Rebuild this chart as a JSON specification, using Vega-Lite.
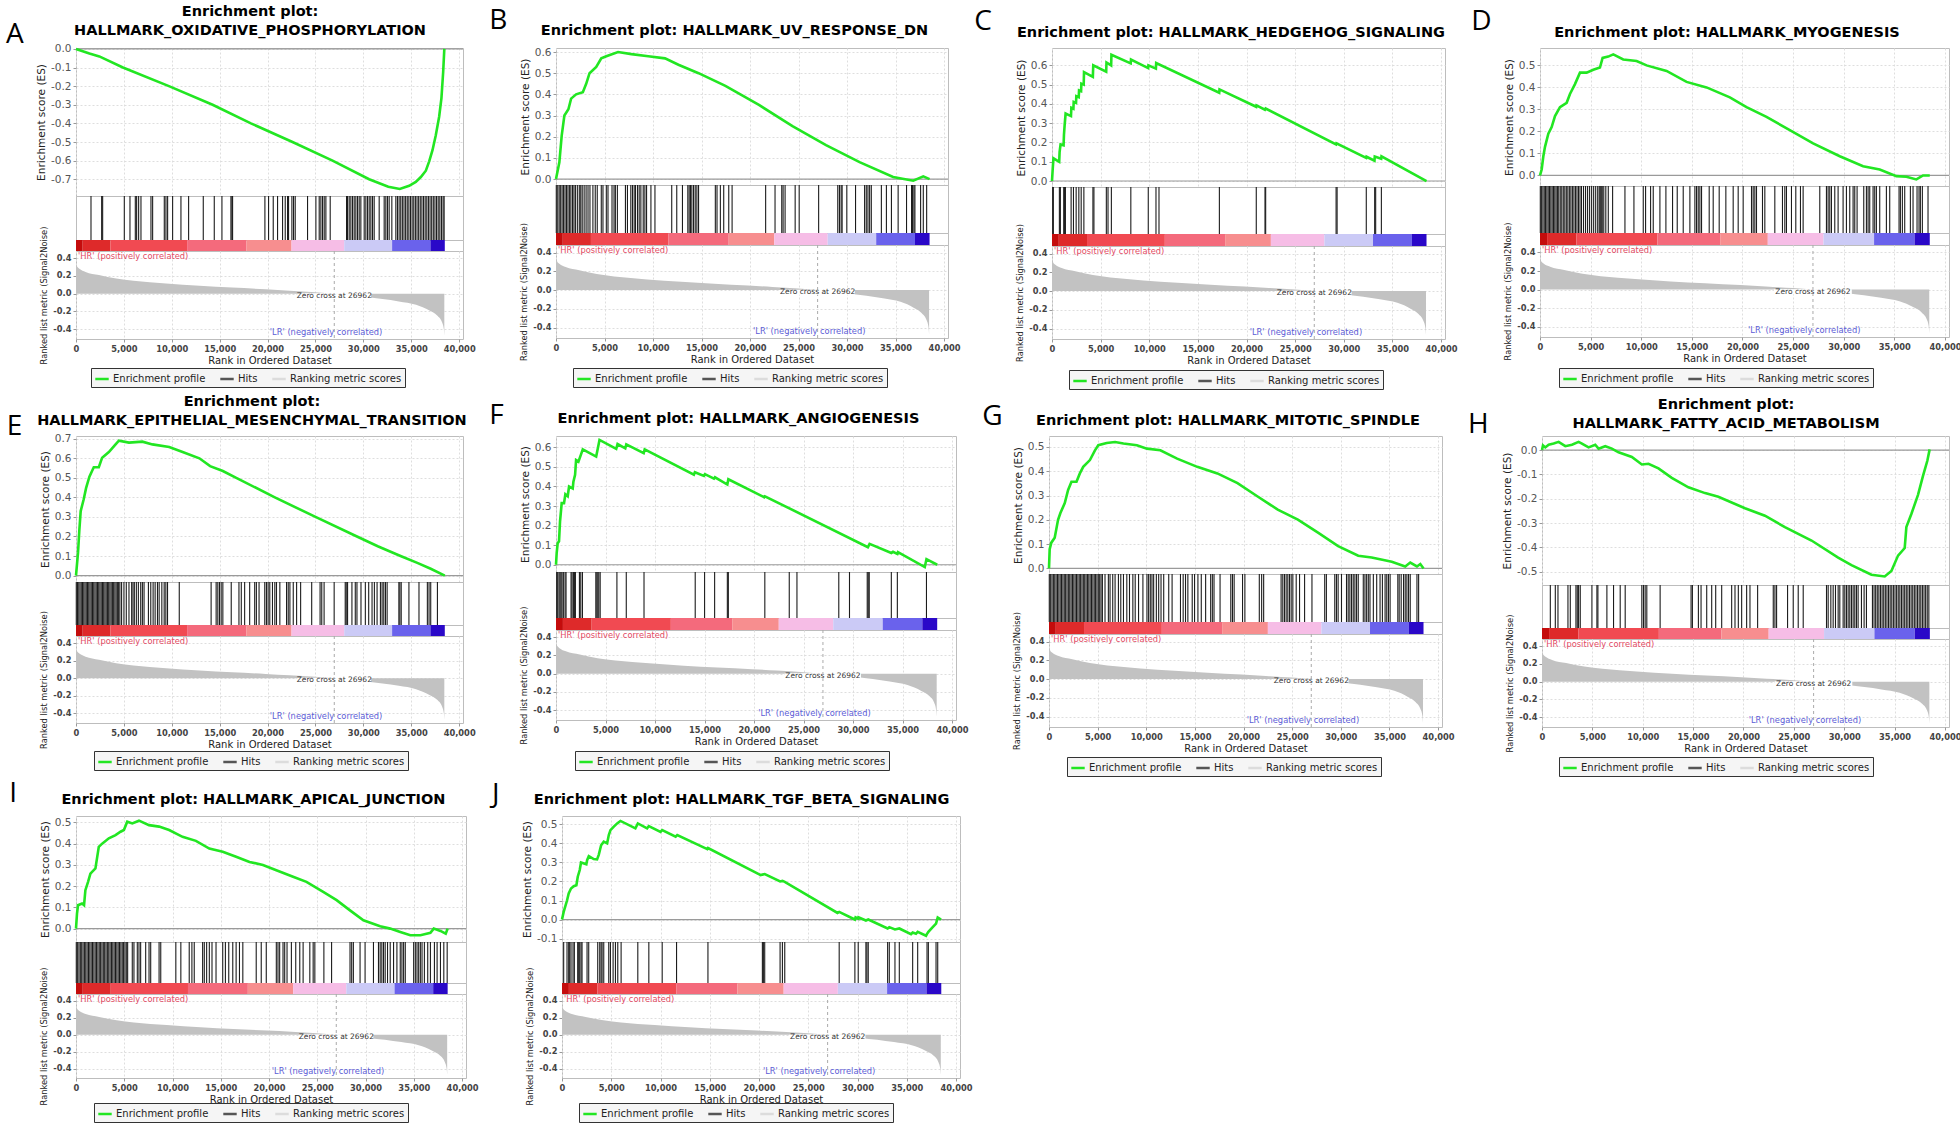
{
"$schema": "https://vega.github.io/schema/vega-lite/v6.json",
"background": "white",
"padding": {"left": 6, "top": 3, "right": 0, "bottom": 0},
"datasets": {
"es": [
{"p":"A","r":0,"v":0},{"p":"A","r":1400,"v":-0.025},{"p":"A","r":2435,"v":-0.04},{"p":"A","r":4900,"v":-0.1},{"p":"A","r":9700,"v":-0.2},{"p":"A","r":14260,"v":-0.3},{"p":"A","r":18260,"v":-0.4},{"p":"A","r":22600,"v":-0.5},{"p":"A","r":26780,"v":-0.6},{"p":"A","r":30600,"v":-0.7},{"p":"A","r":32600,"v":-0.74},{"p":"A","r":33800,"v":-0.752},{"p":"A","r":34780,"v":-0.735},{"p":"A","r":35470,"v":-0.714},{"p":"A","r":36000,"v":-0.688},{"p":"A","r":36520,"v":-0.654},{"p":"A","r":36870,"v":-0.604},{"p":"A","r":37215,"v":-0.544},{"p":"A","r":37560,"v":-0.464},{"p":"A","r":37910,"v":-0.364},{"p":"A","r":38150,"v":-0.264},{"p":"A","r":38330,"v":-0.124},{"p":"A","r":38450,"v":0},
{"p":"B","r":0,"v":0},{"p":"B","r":346,"v":0.079},{"p":"B","r":588,"v":0.205},{"p":"B","r":864,"v":0.3},{"p":"B","r":1279,"v":0.33},{"p":"B","r":1556,"v":0.38},{"p":"B","r":2074,"v":0.4},{"p":"B","r":2766,"v":0.41},{"p":"B","r":3111,"v":0.45},{"p":"B","r":3457,"v":0.5},{"p":"B","r":4148,"v":0.53},{"p":"B","r":4667,"v":0.57},{"p":"B","r":5186,"v":0.58},{"p":"B","r":6395,"v":0.6},{"p":"B","r":7778,"v":0.59},{"p":"B","r":9507,"v":0.58},{"p":"B","r":11235,"v":0.57},{"p":"B","r":12618,"v":0.54},{"p":"B","r":14692,"v":0.5},{"p":"B","r":17458,"v":0.44},{"p":"B","r":20915,"v":0.35},{"p":"B","r":24372,"v":0.25},{"p":"B","r":27829,"v":0.16},{"p":"B","r":31286,"v":0.08},{"p":"B","r":34743,"v":0.01},{"p":"B","r":36817,"v":-0.008},{"p":"B","r":37854,"v":0.013},{"p":"B","r":38500,"v":0},
{"p":"C","r":0,"v":0},{"p":"C","r":70,"v":0.06},{"p":"C","r":150,"v":0.118},{"p":"C","r":740,"v":0.1},{"p":"C","r":780,"v":0.15},{"p":"C","r":880,"v":0.19},{"p":"C","r":1190,"v":0.185},{"p":"C","r":1230,"v":0.24},{"p":"C","r":1300,"v":0.29},{"p":"C","r":1400,"v":0.35},{"p":"C","r":1950,"v":0.337},{"p":"C","r":1990,"v":0.38},{"p":"C","r":2200,"v":0.375},{"p":"C","r":2230,"v":0.41},{"p":"C","r":2470,"v":0.405},{"p":"C","r":2500,"v":0.44},{"p":"C","r":2750,"v":0.435},{"p":"C","r":2780,"v":0.47},{"p":"C","r":2990,"v":0.466},{"p":"C","r":3020,"v":0.505},{"p":"C","r":3260,"v":0.5},{"p":"C","r":3290,"v":0.565},{"p":"C","r":4200,"v":0.54},{"p":"C","r":4240,"v":0.6},{"p":"C","r":5570,"v":0.567},{"p":"C","r":5600,"v":0.615},{"p":"C","r":6080,"v":0.6},{"p":"C","r":6110,"v":0.655},{"p":"C","r":8090,"v":0.61},{"p":"C","r":8120,"v":0.63},{"p":"C","r":9880,"v":0.586},{"p":"C","r":9910,"v":0.6},{"p":"C","r":10680,"v":0.583},{"p":"C","r":10710,"v":0.612},{"p":"C","r":17190,"v":0.458},{"p":"C","r":17220,"v":0.475},{"p":"C","r":20990,"v":0.385},{"p":"C","r":21020,"v":0.392},{"p":"C","r":21890,"v":0.37},{"p":"C","r":21960,"v":0.376},{"p":"C","r":29200,"v":0.19},{"p":"C","r":29240,"v":0.196},{"p":"C","r":32300,"v":0.12},{"p":"C","r":32330,"v":0.126},{"p":"C","r":33150,"v":0.105},{"p":"C","r":33180,"v":0.127},{"p":"C","r":33840,"v":0.116},{"p":"C","r":33870,"v":0.128},{"p":"C","r":38500,"v":0},
{"p":"D","r":0,"v":0},{"p":"D","r":165,"v":0.027},{"p":"D","r":329,"v":0.087},{"p":"D","r":494,"v":0.13},{"p":"D","r":823,"v":0.19},{"p":"D","r":1152,"v":0.22},{"p":"D","r":1481,"v":0.27},{"p":"D","r":1974,"v":0.31},{"p":"D","r":2632,"v":0.33},{"p":"D","r":2961,"v":0.37},{"p":"D","r":3455,"v":0.415},{"p":"D","r":3948,"v":0.467},{"p":"D","r":4606,"v":0.467},{"p":"D","r":5264,"v":0.48},{"p":"D","r":5922,"v":0.49},{"p":"D","r":6185,"v":0.534},{"p":"D","r":6745,"v":0.54},{"p":"D","r":7238,"v":0.55},{"p":"D","r":8225,"v":0.527},{"p":"D","r":9541,"v":0.52},{"p":"D","r":10528,"v":0.5},{"p":"D","r":12502,"v":0.475},{"p":"D","r":14476,"v":0.425},{"p":"D","r":16450,"v":0.4},{"p":"D","r":18753,"v":0.355},{"p":"D","r":20398,"v":0.31},{"p":"D","r":22372,"v":0.266},{"p":"D","r":24675,"v":0.206},{"p":"D","r":26978,"v":0.146},{"p":"D","r":29610,"v":0.087},{"p":"D","r":31913,"v":0.042},{"p":"D","r":33558,"v":0.027},{"p":"D","r":35203,"v":-0.003},{"p":"D","r":36190,"v":-0.006},{"p":"D","r":37177,"v":-0.018},{"p":"D","r":37835,"v":0},{"p":"D","r":38500,"v":0},
{"p":"E","r":0,"v":0},{"p":"E","r":210,"v":0.117},{"p":"E","r":350,"v":0.233},{"p":"E","r":490,"v":0.33},{"p":"E","r":805,"v":0.39},{"p":"E","r":1050,"v":0.447},{"p":"E","r":1400,"v":0.506},{"p":"E","r":1855,"v":0.554},{"p":"E","r":2380,"v":0.554},{"p":"E","r":2730,"v":0.603},{"p":"E","r":3430,"v":0.632},{"p":"E","r":4130,"v":0.671},{"p":"E","r":4480,"v":0.69},{"p":"E","r":5530,"v":0.68},{"p":"E","r":6930,"v":0.685},{"p":"E","r":7980,"v":0.671},{"p":"E","r":9730,"v":0.658},{"p":"E","r":11130,"v":0.632},{"p":"E","r":12880,"v":0.6},{"p":"E","r":14000,"v":0.56},{"p":"E","r":15330,"v":0.535},{"p":"E","r":16730,"v":0.5},{"p":"E","r":20755,"v":0.4},{"p":"E","r":25000,"v":0.3},{"p":"E","r":29330,"v":0.2},{"p":"E","r":31500,"v":0.15},{"p":"E","r":33880,"v":0.1},{"p":"E","r":35630,"v":0.065},{"p":"E","r":37030,"v":0.035},{"p":"E","r":38500,"v":0},
{"p":"F","r":0,"v":0},{"p":"F","r":68,"v":0.06},{"p":"F","r":169,"v":0.11},{"p":"F","r":304,"v":0.12},{"p":"F","r":406,"v":0.22},{"p":"F","r":575,"v":0.315},{"p":"F","r":811,"v":0.315},{"p":"F","r":946,"v":0.36},{"p":"F","r":1183,"v":0.35},{"p":"F","r":1318,"v":0.4},{"p":"F","r":1690,"v":0.39},{"p":"F","r":1758,"v":0.425},{"p":"F","r":1927,"v":0.46},{"p":"F","r":2028,"v":0.535},{"p":"F","r":2265,"v":0.527},{"p":"F","r":2501,"v":0.56},{"p":"F","r":2704,"v":0.59},{"p":"F","r":4056,"v":0.553},{"p":"F","r":4191,"v":0.587},{"p":"F","r":4394,"v":0.638},{"p":"F","r":6084,"v":0.592},{"p":"F","r":6219,"v":0.617},{"p":"F","r":6997,"v":0.595},{"p":"F","r":7098,"v":0.615},{"p":"F","r":8856,"v":0.57},{"p":"F","r":8957,"v":0.59},{"p":"F","r":13926,"v":0.46},{"p":"F","r":14027,"v":0.473},{"p":"F","r":14940,"v":0.454},{"p":"F","r":15041,"v":0.463},{"p":"F","r":15954,"v":0.44},{"p":"F","r":16055,"v":0.447},{"p":"F","r":17306,"v":0.41},{"p":"F","r":17407,"v":0.437},{"p":"F","r":21024,"v":0.345},{"p":"F","r":21100,"v":0.35},{"p":"F","r":31502,"v":0.09},{"p":"F","r":31671,"v":0.107},{"p":"F","r":33868,"v":0.06},{"p":"F","r":34037,"v":0.066},{"p":"F","r":34476,"v":0.055},{"p":"F","r":34540,"v":0.065},{"p":"F","r":37248,"v":-0.012},{"p":"F","r":37417,"v":0.029},{"p":"F","r":38500,"v":0},
{"p":"G","r":0,"v":0},{"p":"G","r":69,"v":0.079},{"p":"G","r":241,"v":0.106},{"p":"G","r":586,"v":0.126},{"p":"G","r":931,"v":0.2},{"p":"G","r":1172,"v":0.228},{"p":"G","r":1621,"v":0.269},{"p":"G","r":1965,"v":0.323},{"p":"G","r":2310,"v":0.357},{"p":"G","r":2827,"v":0.357},{"p":"G","r":3172,"v":0.391},{"p":"G","r":3517,"v":0.418},{"p":"G","r":4207,"v":0.446},{"p":"G","r":4724,"v":0.486},{"p":"G","r":5068,"v":0.507},{"p":"G","r":5931,"v":0.516},{"p":"G","r":6793,"v":0.52},{"p":"G","r":7655,"v":0.514},{"p":"G","r":9034,"v":0.507},{"p":"G","r":10068,"v":0.493},{"p":"G","r":11448,"v":0.486},{"p":"G","r":13171,"v":0.452},{"p":"G","r":15240,"v":0.418},{"p":"G","r":17310,"v":0.391},{"p":"G","r":19379,"v":0.351},{"p":"G","r":21447,"v":0.296},{"p":"G","r":23515,"v":0.242},{"p":"G","r":25584,"v":0.201},{"p":"G","r":27653,"v":0.147},{"p":"G","r":29722,"v":0.092},{"p":"G","r":31790,"v":0.052},{"p":"G","r":33170,"v":0.045},{"p":"G","r":35239,"v":0.027},{"p":"G","r":36618,"v":0.008},{"p":"G","r":37136,"v":0.024},{"p":"G","r":37825,"v":0.008},{"p":"G","r":38170,"v":0.018},{"p":"G","r":38500,"v":0},
{"p":"H","r":0,"v":0},{"p":"H","r":100,"v":0.019},{"p":"H","r":330,"v":0.011},{"p":"H","r":661,"v":0.022},{"p":"H","r":1156,"v":0.027},{"p":"H","r":1652,"v":0.034},{"p":"H","r":2312,"v":0.016},{"p":"H","r":2973,"v":0.022},{"p":"H","r":3633,"v":0.034},{"p":"H","r":3964,"v":0.027},{"p":"H","r":4624,"v":0.011},{"p":"H","r":5285,"v":0.022},{"p":"H","r":5615,"v":0.006},{"p":"H","r":6276,"v":0.016},{"p":"H","r":6936,"v":0.006},{"p":"H","r":7597,"v":-0.009},{"p":"H","r":8918,"v":-0.028},{"p":"H","r":9909,"v":-0.059},{"p":"H","r":10570,"v":-0.056},{"p":"H","r":11561,"v":-0.075},{"p":"H","r":12882,"v":-0.114},{"p":"H","r":14533,"v":-0.153},{"p":"H","r":16185,"v":-0.177},{"p":"H","r":17506,"v":-0.192},{"p":"H","r":20148,"v":-0.239},{"p":"H","r":22130,"v":-0.27},{"p":"H","r":24112,"v":-0.317},{"p":"H","r":26754,"v":-0.372},{"p":"H","r":29397,"v":-0.442},{"p":"H","r":30718,"v":-0.473},{"p":"H","r":32700,"v":-0.513},{"p":"H","r":34021,"v":-0.52},{"p":"H","r":34681,"v":-0.497},{"p":"H","r":35342,"v":-0.434},{"p":"H","r":36003,"v":-0.403},{"p":"H","r":36168,"v":-0.317},{"p":"H","r":36663,"v":-0.263},{"p":"H","r":37324,"v":-0.184},{"p":"H","r":37819,"v":-0.106},{"p":"H","r":38249,"v":-0.044},{"p":"H","r":38480,"v":0.003},
{"p":"I","r":0,"v":0},{"p":"I","r":104,"v":0.071},{"p":"I","r":208,"v":0.11},{"p":"I","r":625,"v":0.118},{"p":"I","r":833,"v":0.11},{"p":"I","r":972,"v":0.181},{"p":"I","r":1249,"v":0.22},{"p":"I","r":1492,"v":0.259},{"p":"I","r":2013,"v":0.283},{"p":"I","r":2360,"v":0.385},{"p":"I","r":2707,"v":0.4},{"p":"I","r":3401,"v":0.425},{"p":"I","r":4095,"v":0.44},{"p":"I","r":4615,"v":0.456},{"p":"I","r":4962,"v":0.464},{"p":"I","r":5309,"v":0.503},{"p":"I","r":5830,"v":0.495},{"p":"I","r":6524,"v":0.508},{"p":"I","r":7565,"v":0.487},{"p":"I","r":8606,"v":0.48},{"p":"I","r":9647,"v":0.464},{"p":"I","r":11035,"v":0.432},{"p":"I","r":12423,"v":0.413},{"p":"I","r":13811,"v":0.377},{"p":"I","r":15199,"v":0.362},{"p":"I","r":16587,"v":0.338},{"p":"I","r":17975,"v":0.314},{"p":"I","r":19363,"v":0.299},{"p":"I","r":20751,"v":0.275},{"p":"I","r":22486,"v":0.244},{"p":"I","r":23874,"v":0.22},{"p":"I","r":25609,"v":0.173},{"p":"I","r":26997,"v":0.134},{"p":"I","r":28385,"v":0.086},{"p":"I","r":29773,"v":0.039},{"p":"I","r":31508,"v":0.011},{"p":"I","r":32549,"v":0},{"p":"I","r":33590,"v":-0.016},{"p":"I","r":34631,"v":-0.031},{"p":"I","r":35672,"v":-0.031},{"p":"I","r":36713,"v":-0.02},{"p":"I","r":37060,"v":0},{"p":"I","r":37754,"v":-0.011},{"p":"I","r":38300,"v":-0.024},{"p":"I","r":38500,"v":0},
{"p":"J","r":0,"v":0},{"p":"J","r":170,"v":0.04},{"p":"J","r":340,"v":0.07},{"p":"J","r":510,"v":0.1},{"p":"J","r":680,"v":0.137},{"p":"J","r":915,"v":0.163},{"p":"J","r":1190,"v":0.175},{"p":"J","r":1460,"v":0.18},{"p":"J","r":1600,"v":0.225},{"p":"J","r":1800,"v":0.26},{"p":"J","r":1930,"v":0.3},{"p":"J","r":2470,"v":0.29},{"p":"J","r":2550,"v":0.312},{"p":"J","r":2720,"v":0.333},{"p":"J","r":3220,"v":0.318},{"p":"J","r":3560,"v":0.316},{"p":"J","r":3730,"v":0.34},{"p":"J","r":3970,"v":0.39},{"p":"J","r":4240,"v":0.409},{"p":"J","r":4580,"v":0.4},{"p":"J","r":4750,"v":0.444},{"p":"J","r":4920,"v":0.47},{"p":"J","r":5260,"v":0.488},{"p":"J","r":5600,"v":0.505},{"p":"J","r":5935,"v":0.518},{"p":"J","r":7450,"v":0.479},{"p":"J","r":7700,"v":0.505},{"p":"J","r":8640,"v":0.479},{"p":"J","r":8815,"v":0.491},{"p":"J","r":10000,"v":0.461},{"p":"J","r":10170,"v":0.47},{"p":"J","r":11530,"v":0.435},{"p":"J","r":11700,"v":0.444},{"p":"J","r":14750,"v":0.37},{"p":"J","r":14820,"v":0.376},{"p":"J","r":20170,"v":0.233},{"p":"J","r":20340,"v":0.236},{"p":"J","r":20580,"v":0.239},{"p":"J","r":22140,"v":0.2},{"p":"J","r":22380,"v":0.203},{"p":"J","r":22610,"v":0.198},{"p":"J","r":27968,"v":0.035},{"p":"J","r":28137,"v":0.04},{"p":"J","r":29730,"v":0},{"p":"J","r":29800,"v":0.012},{"p":"J","r":30069,"v":0.005},{"p":"J","r":30100,"v":0.012},{"p":"J","r":30849,"v":-0.005},{"p":"J","r":31086,"v":0},{"p":"J","r":33053,"v":-0.047},{"p":"J","r":33222,"v":-0.04},{"p":"J","r":33798,"v":-0.052},{"p":"J","r":34239,"v":-0.047},{"p":"J","r":35426,"v":-0.077},{"p":"J","r":35595,"v":-0.068},{"p":"J","r":35934,"v":-0.075},{"p":"J","r":36104,"v":-0.065},{"p":"J","r":36951,"v":-0.085},{"p":"J","r":37053,"v":-0.075},{"p":"J","r":37188,"v":-0.065},{"p":"J","r":37629,"v":-0.04},{"p":"J","r":37968,"v":-0.021},{"p":"J","r":38138,"v":0.011},{"p":"J","r":38477,"v":0}
],
"hits": [
{"p":"A","r":1565},{"p":"A","r":2678},{"p":"A","r":2782},{"p":"A","r":5043},{"p":"A","r":5634},{"p":"A","r":6191},{"p":"A","r":6330},{"p":"A","r":6539},{"p":"A","r":6782},{"p":"A","r":7826},{"p":"A","r":8000},{"p":"A","r":9217},{"p":"A","r":9391},{"p":"A","r":9565},{"p":"A","r":10086},{"p":"A","r":10956},{"p":"A","r":11756},{"p":"A","r":13286},{"p":"A","r":14434},{"p":"A","r":15234},{"p":"A","r":16173},{"p":"A","r":16278},{"p":"A","r":16347},{"p":"A","r":19720},{"p":"A","r":20103},{"p":"A","r":20590},{"p":"A","r":21042},{"p":"A","r":21564},{"p":"A","r":21842},{"p":"A","r":22085},{"p":"A","r":22190},{"p":"A","r":22537},{"p":"A","r":22711},{"p":"A","r":22885},{"p":"A","r":24172},{"p":"A","r":25042},{"p":"A","r":25389},{"p":"A","r":25563},{"p":"A","r":25737},{"p":"A","r":25911},{"p":"A","r":26085},{"p":"A","r":26537},{"p":"A","r":28241},{"p":"A","r":28346},{"p":"A","r":28520},{"p":"A","r":28694},{"p":"A","r":28867},{"p":"A","r":29041},{"p":"A","r":29215},{"p":"A","r":29389},{"p":"A","r":29563},{"p":"A","r":29737},{"p":"A","r":30085},{"p":"A","r":30259},{"p":"A","r":30433},{"p":"A","r":30606},{"p":"A","r":30780},{"p":"A","r":30954},{"p":"A","r":31128},{"p":"A","r":31650},{"p":"A","r":32172},{"p":"A","r":32345},{"p":"A","r":32519},{"p":"A","r":32693},{"p":"A","r":32971},{"p":"A","r":33389},{"p":"A","r":33560},{"p":"A","r":33730},{"p":"A","r":33900},{"p":"A","r":34070},{"p":"A","r":34240},{"p":"A","r":34410},{"p":"A","r":34580},{"p":"A","r":34750},{"p":"A","r":34920},{"p":"A","r":35090},{"p":"A","r":35260},{"p":"A","r":35430},{"p":"A","r":35600},{"p":"A","r":35770},{"p":"A","r":35940},{"p":"A","r":36110},{"p":"A","r":36280},{"p":"A","r":36450},{"p":"A","r":36620},{"p":"A","r":36790},{"p":"A","r":36960},{"p":"A","r":37130},{"p":"A","r":37300},{"p":"A","r":37470},{"p":"A","r":37640},{"p":"A","r":37810},{"p":"A","r":37980},{"p":"A","r":38150},{"p":"A","r":38320},{"p":"A","r":38430},
{"p":"B","r":30},{"p":"B","r":180},{"p":"B","r":330},{"p":"B","r":480},{"p":"B","r":630},{"p":"B","r":780},{"p":"B","r":930},{"p":"B","r":1080},{"p":"B","r":1230},{"p":"B","r":1380},{"p":"B","r":1530},{"p":"B","r":1700},{"p":"B","r":1850},{"p":"B","r":2000},{"p":"B","r":2200},{"p":"B","r":2400},{"p":"B","r":2550},{"p":"B","r":2700},{"p":"B","r":2900},{"p":"B","r":3100},{"p":"B","r":3300},{"p":"B","r":3500},{"p":"B","r":3803},{"p":"B","r":4045},{"p":"B","r":4252},{"p":"B","r":4667},{"p":"B","r":4840},{"p":"B","r":5186},{"p":"B","r":5358},{"p":"B","r":5773},{"p":"B","r":5981},{"p":"B","r":6119},{"p":"B","r":6326},{"p":"B","r":7156},{"p":"B","r":7363},{"p":"B","r":7709},{"p":"B","r":7882},{"p":"B","r":8055},{"p":"B","r":8193},{"p":"B","r":8401},{"p":"B","r":8573},{"p":"B","r":8746},{"p":"B","r":8988},{"p":"B","r":9161},{"p":"B","r":9334},{"p":"B","r":9783},{"p":"B","r":10198},{"p":"B","r":11927},{"p":"B","r":12445},{"p":"B","r":13033},{"p":"B","r":13586},{"p":"B","r":13724},{"p":"B","r":13863},{"p":"B","r":14001},{"p":"B","r":14174},{"p":"B","r":14347},{"p":"B","r":14519},{"p":"B","r":14692},{"p":"B","r":16421},{"p":"B","r":16594},{"p":"B","r":16939},{"p":"B","r":17285},{"p":"B","r":17804},{"p":"B","r":18149},{"p":"B","r":21606},{"p":"B","r":22574},{"p":"B","r":23266},{"p":"B","r":23404},{"p":"B","r":23611},{"p":"B","r":24648},{"p":"B","r":25063},{"p":"B","r":27068},{"p":"B","r":29039},{"p":"B","r":29212},{"p":"B","r":29385},{"p":"B","r":29488},{"p":"B","r":29972},{"p":"B","r":30871},{"p":"B","r":31804},{"p":"B","r":31977},{"p":"B","r":32150},{"p":"B","r":32323},{"p":"B","r":32496},{"p":"B","r":33533},{"p":"B","r":34052},{"p":"B","r":34570},{"p":"B","r":35261},{"p":"B","r":36126},{"p":"B","r":36644},{"p":"B","r":36748},{"p":"B","r":36886},{"p":"B","r":36990},{"p":"B","r":37577},{"p":"B","r":37854},{"p":"B","r":38200},
{"p":"C","r":69},{"p":"C","r":138},{"p":"C","r":759},{"p":"C","r":862},{"p":"C","r":1207},{"p":"C","r":1276},{"p":"C","r":1379},{"p":"C","r":1965},{"p":"C","r":2207},{"p":"C","r":2483},{"p":"C","r":2758},{"p":"C","r":3000},{"p":"C","r":3276},{"p":"C","r":4207},{"p":"C","r":4310},{"p":"C","r":5586},{"p":"C","r":5758},{"p":"C","r":6103},{"p":"C","r":8103},{"p":"C","r":9896},{"p":"C","r":10689},{"p":"C","r":10999},{"p":"C","r":17206},{"p":"C","r":20999},{"p":"C","r":21896},{"p":"C","r":21965},{"p":"C","r":29205},{"p":"C","r":29308},{"p":"C","r":32308},{"p":"C","r":33170},{"p":"C","r":33273},{"p":"C","r":33859},
{"p":"D","r":30},{"p":"D","r":160},{"p":"D","r":290},{"p":"D","r":420},{"p":"D","r":550},{"p":"D","r":680},{"p":"D","r":810},{"p":"D","r":940},{"p":"D","r":1070},{"p":"D","r":1200},{"p":"D","r":1330},{"p":"D","r":1460},{"p":"D","r":1590},{"p":"D","r":1720},{"p":"D","r":1850},{"p":"D","r":2000},{"p":"D","r":2150},{"p":"D","r":2300},{"p":"D","r":2450},{"p":"D","r":2600},{"p":"D","r":2750},{"p":"D","r":2900},{"p":"D","r":3050},{"p":"D","r":3200},{"p":"D","r":3350},{"p":"D","r":3500},{"p":"D","r":3650},{"p":"D","r":3800},{"p":"D","r":3950},{"p":"D","r":4100},{"p":"D","r":4300},{"p":"D","r":4500},{"p":"D","r":4700},{"p":"D","r":4900},{"p":"D","r":5100},{"p":"D","r":5300},{"p":"D","r":5500},{"p":"D","r":5700},{"p":"D","r":5850},{"p":"D","r":5950},{"p":"D","r":6050},{"p":"D","r":6150},{"p":"D","r":6300},{"p":"D","r":6500},{"p":"D","r":6745},{"p":"D","r":7172},{"p":"D","r":8390},{"p":"D","r":9278},{"p":"D","r":10199},{"p":"D","r":10429},{"p":"D","r":10923},{"p":"D","r":11186},{"p":"D","r":11844},{"p":"D","r":12436},{"p":"D","r":13094},{"p":"D","r":13555},{"p":"D","r":14147},{"p":"D","r":14805},{"p":"D","r":15299},{"p":"D","r":15463},{"p":"D","r":15628},{"p":"D","r":15792},{"p":"D","r":15957},{"p":"D","r":16713},{"p":"D","r":17108},{"p":"D","r":17700},{"p":"D","r":18358},{"p":"D","r":19082},{"p":"D","r":19576},{"p":"D","r":20069},{"p":"D","r":20892},{"p":"D","r":21056},{"p":"D","r":21221},{"p":"D","r":21385},{"p":"D","r":21977},{"p":"D","r":22208},{"p":"D","r":23195},{"p":"D","r":23951},{"p":"D","r":24182},{"p":"D","r":24346},{"p":"D","r":24840},{"p":"D","r":25267},{"p":"D","r":25728},{"p":"D","r":25991},{"p":"D","r":27636},{"p":"D","r":28294},{"p":"D","r":28459},{"p":"D","r":28623},{"p":"D","r":28788},{"p":"D","r":29117},{"p":"D","r":29446},{"p":"D","r":29939},{"p":"D","r":30268},{"p":"D","r":30597},{"p":"D","r":30926},{"p":"D","r":31091},{"p":"D","r":31321},{"p":"D","r":31979},{"p":"D","r":32242},{"p":"D","r":32407},{"p":"D","r":32571},{"p":"D","r":32900},{"p":"D","r":33065},{"p":"D","r":33229},{"p":"D","r":33558},{"p":"D","r":34216},{"p":"D","r":34545},{"p":"D","r":35466},{"p":"D","r":35598},{"p":"D","r":35795},{"p":"D","r":36026},{"p":"D","r":36585},{"p":"D","r":36848},{"p":"D","r":37243},{"p":"D","r":37440},{"p":"D","r":37572},{"p":"D","r":37769},{"p":"D","r":38328},
{"p":"E","r":30},{"p":"E","r":160},{"p":"E","r":290},{"p":"E","r":420},{"p":"E","r":550},{"p":"E","r":680},{"p":"E","r":810},{"p":"E","r":940},{"p":"E","r":1070},{"p":"E","r":1200},{"p":"E","r":1330},{"p":"E","r":1460},{"p":"E","r":1590},{"p":"E","r":1720},{"p":"E","r":1850},{"p":"E","r":1980},{"p":"E","r":2110},{"p":"E","r":2240},{"p":"E","r":2370},{"p":"E","r":2500},{"p":"E","r":2630},{"p":"E","r":2760},{"p":"E","r":2890},{"p":"E","r":3020},{"p":"E","r":3150},{"p":"E","r":3280},{"p":"E","r":3410},{"p":"E","r":3540},{"p":"E","r":3670},{"p":"E","r":3800},{"p":"E","r":3930},{"p":"E","r":4060},{"p":"E","r":4190},{"p":"E","r":4320},{"p":"E","r":4450},{"p":"E","r":4580},{"p":"E","r":4760},{"p":"E","r":5005},{"p":"E","r":5250},{"p":"E","r":5530},{"p":"E","r":5810},{"p":"E","r":5950},{"p":"E","r":6090},{"p":"E","r":6300},{"p":"E","r":6510},{"p":"E","r":6755},{"p":"E","r":6930},{"p":"E","r":7105},{"p":"E","r":7560},{"p":"E","r":7805},{"p":"E","r":8050},{"p":"E","r":8260},{"p":"E","r":8505},{"p":"E","r":8680},{"p":"E","r":8960},{"p":"E","r":9205},{"p":"E","r":9380},{"p":"E","r":9555},{"p":"E","r":10780},{"p":"E","r":14105},{"p":"E","r":14630},{"p":"E","r":14805},{"p":"E","r":14980},{"p":"E","r":15155},{"p":"E","r":15330},{"p":"E","r":16205},{"p":"E","r":17010},{"p":"E","r":17255},{"p":"E","r":17605},{"p":"E","r":18130},{"p":"E","r":18655},{"p":"E","r":18830},{"p":"E","r":19110},{"p":"E","r":19705},{"p":"E","r":19880},{"p":"E","r":20055},{"p":"E","r":20230},{"p":"E","r":20510},{"p":"E","r":20755},{"p":"E","r":20930},{"p":"E","r":21280},{"p":"E","r":21980},{"p":"E","r":22155},{"p":"E","r":22330},{"p":"E","r":22680},{"p":"E","r":23030},{"p":"E","r":23450},{"p":"E","r":24605},{"p":"E","r":25480},{"p":"E","r":25655},{"p":"E","r":25900},{"p":"E","r":26950},{"p":"E","r":28105},{"p":"E","r":28210},{"p":"E","r":28350},{"p":"E","r":28805},{"p":"E","r":29155},{"p":"E","r":29330},{"p":"E","r":29750},{"p":"E","r":30205},{"p":"E","r":30555},{"p":"E","r":30905},{"p":"E","r":31150},{"p":"E","r":31430},{"p":"E","r":31780},{"p":"E","r":31955},{"p":"E","r":32130},{"p":"E","r":32305},{"p":"E","r":32480},{"p":"E","r":33705},{"p":"E","r":33810},{"p":"E","r":33950},{"p":"E","r":34755},{"p":"E","r":35805},{"p":"E","r":36680},{"p":"E","r":36855},{"p":"E","r":37030},{"p":"E","r":37730},
{"p":"F","r":68},{"p":"F","r":169},{"p":"F","r":304},{"p":"F","r":406},{"p":"F","r":507},{"p":"F","r":608},{"p":"F","r":744},{"p":"F","r":913},{"p":"F","r":1014},{"p":"F","r":1521},{"p":"F","r":1622},{"p":"F","r":1758},{"p":"F","r":1859},{"p":"F","r":1960},{"p":"F","r":2366},{"p":"F","r":2501},{"p":"F","r":2670},{"p":"F","r":4022},{"p":"F","r":4124},{"p":"F","r":4225},{"p":"F","r":4326},{"p":"F","r":4462},{"p":"F","r":6152},{"p":"F","r":7098},{"p":"F","r":8889},{"p":"F","r":14061},{"p":"F","r":15007},{"p":"F","r":16021},{"p":"F","r":17306},{"p":"F","r":17407},{"p":"F","r":21091},{"p":"F","r":23559},{"p":"F","r":24336},{"p":"F","r":28561},{"p":"F","r":29643},{"p":"F","r":31434},{"p":"F","r":31535},{"p":"F","r":31637},{"p":"F","r":33868},{"p":"F","r":34476},{"p":"F","r":37417},
{"p":"G","r":30},{"p":"G","r":170},{"p":"G","r":310},{"p":"G","r":450},{"p":"G","r":590},{"p":"G","r":730},{"p":"G","r":870},{"p":"G","r":1010},{"p":"G","r":1150},{"p":"G","r":1290},{"p":"G","r":1430},{"p":"G","r":1570},{"p":"G","r":1710},{"p":"G","r":1850},{"p":"G","r":1990},{"p":"G","r":2130},{"p":"G","r":2270},{"p":"G","r":2410},{"p":"G","r":2550},{"p":"G","r":2690},{"p":"G","r":2830},{"p":"G","r":2970},{"p":"G","r":3110},{"p":"G","r":3250},{"p":"G","r":3390},{"p":"G","r":3530},{"p":"G","r":3670},{"p":"G","r":3810},{"p":"G","r":3950},{"p":"G","r":4090},{"p":"G","r":4230},{"p":"G","r":4370},{"p":"G","r":4510},{"p":"G","r":4650},{"p":"G","r":4790},{"p":"G","r":4930},{"p":"G","r":5070},{"p":"G","r":5210},{"p":"G","r":5350},{"p":"G","r":5490},{"p":"G","r":5758},{"p":"G","r":6103},{"p":"G","r":6275},{"p":"G","r":6551},{"p":"G","r":6793},{"p":"G","r":7137},{"p":"G","r":7379},{"p":"G","r":7655},{"p":"G","r":7999},{"p":"G","r":8275},{"p":"G","r":8620},{"p":"G","r":8861},{"p":"G","r":9206},{"p":"G","r":9654},{"p":"G","r":10068},{"p":"G","r":10241},{"p":"G","r":10413},{"p":"G","r":10585},{"p":"G","r":10758},{"p":"G","r":11034},{"p":"G","r":11275},{"p":"G","r":11516},{"p":"G","r":11792},{"p":"G","r":12309},{"p":"G","r":12654},{"p":"G","r":13516},{"p":"G","r":13792},{"p":"G","r":14033},{"p":"G","r":14275},{"p":"G","r":14723},{"p":"G","r":14964},{"p":"G","r":15309},{"p":"G","r":15654},{"p":"G","r":16102},{"p":"G","r":16619},{"p":"G","r":16792},{"p":"G","r":16964},{"p":"G","r":17585},{"p":"G","r":18688},{"p":"G","r":18860},{"p":"G","r":19033},{"p":"G","r":19895},{"p":"G","r":20136},{"p":"G","r":21619},{"p":"G","r":21860},{"p":"G","r":22067},{"p":"G","r":23860},{"p":"G","r":24033},{"p":"G","r":24205},{"p":"G","r":24378},{"p":"G","r":24550},{"p":"G","r":24722},{"p":"G","r":24895},{"p":"G","r":25067},{"p":"G","r":25412},{"p":"G","r":25757},{"p":"G","r":26274},{"p":"G","r":27032},{"p":"G","r":28343},{"p":"G","r":28515},{"p":"G","r":29377},{"p":"G","r":29549},{"p":"G","r":29722},{"p":"G","r":30067},{"p":"G","r":30584},{"p":"G","r":30756},{"p":"G","r":30929},{"p":"G","r":31101},{"p":"G","r":31274},{"p":"G","r":31446},{"p":"G","r":31618},{"p":"G","r":31791},{"p":"G","r":32308},{"p":"G","r":32480},{"p":"G","r":32653},{"p":"G","r":32825},{"p":"G","r":32997},{"p":"G","r":33342},{"p":"G","r":33687},{"p":"G","r":34032},{"p":"G","r":34273},{"p":"G","r":34549},{"p":"G","r":34722},{"p":"G","r":34894},{"p":"G","r":35066},{"p":"G","r":35859},{"p":"G","r":35997},{"p":"G","r":36204},{"p":"G","r":36446},{"p":"G","r":36618},{"p":"G","r":36790},{"p":"G","r":36963},{"p":"G","r":37135},{"p":"G","r":37825},{"p":"G","r":37997},
{"p":"H","r":826},{"p":"H","r":1321},{"p":"H","r":1585},{"p":"H","r":2576},{"p":"H","r":2808},{"p":"H","r":3369},{"p":"H","r":3501},{"p":"H","r":3633},{"p":"H","r":3798},{"p":"H","r":4955},{"p":"H","r":5450},{"p":"H","r":5549},{"p":"H","r":6441},{"p":"H","r":7101},{"p":"H","r":7762},{"p":"H","r":8258},{"p":"H","r":9909},{"p":"H","r":10074},{"p":"H","r":10239},{"p":"H","r":10404},{"p":"H","r":11726},{"p":"H","r":14797},{"p":"H","r":14930},{"p":"H","r":15524},{"p":"H","r":15788},{"p":"H","r":16350},{"p":"H","r":16845},{"p":"H","r":17242},{"p":"H","r":17836},{"p":"H","r":18827},{"p":"H","r":19157},{"p":"H","r":19488},{"p":"H","r":19818},{"p":"H","r":20313},{"p":"H","r":20644},{"p":"H","r":21403},{"p":"H","r":22956},{"p":"H","r":23121},{"p":"H","r":23286},{"p":"H","r":24376},{"p":"H","r":24938},{"p":"H","r":25433},{"p":"H","r":25929},{"p":"H","r":28241},{"p":"H","r":28406},{"p":"H","r":28670},{"p":"H","r":28901},{"p":"H","r":29132},{"p":"H","r":29397},{"p":"H","r":29562},{"p":"H","r":29892},{"p":"H","r":30057},{"p":"H","r":30222},{"p":"H","r":30387},{"p":"H","r":30552},{"p":"H","r":30718},{"p":"H","r":30883},{"p":"H","r":31048},{"p":"H","r":31213},{"p":"H","r":31378},{"p":"H","r":31709},{"p":"H","r":31973},{"p":"H","r":32204},{"p":"H","r":32800},{"p":"H","r":32960},{"p":"H","r":33120},{"p":"H","r":33280},{"p":"H","r":33440},{"p":"H","r":33600},{"p":"H","r":33760},{"p":"H","r":33920},{"p":"H","r":34080},{"p":"H","r":34240},{"p":"H","r":34400},{"p":"H","r":34560},{"p":"H","r":34720},{"p":"H","r":34880},{"p":"H","r":35040},{"p":"H","r":35200},{"p":"H","r":35360},{"p":"H","r":35520},{"p":"H","r":35680},{"p":"H","r":35840},{"p":"H","r":36000},{"p":"H","r":36160},{"p":"H","r":36320},{"p":"H","r":36480},{"p":"H","r":36640},{"p":"H","r":36800},{"p":"H","r":36960},{"p":"H","r":37120},{"p":"H","r":37280},{"p":"H","r":37440},{"p":"H","r":37600},{"p":"H","r":37760},{"p":"H","r":37920},{"p":"H","r":38080},{"p":"H","r":38240},{"p":"H","r":38400},
{"p":"I","r":30},{"p":"I","r":170},{"p":"I","r":310},{"p":"I","r":450},{"p":"I","r":590},{"p":"I","r":730},{"p":"I","r":870},{"p":"I","r":1010},{"p":"I","r":1150},{"p":"I","r":1290},{"p":"I","r":1430},{"p":"I","r":1570},{"p":"I","r":1710},{"p":"I","r":1850},{"p":"I","r":1990},{"p":"I","r":2130},{"p":"I","r":2270},{"p":"I","r":2410},{"p":"I","r":2550},{"p":"I","r":2690},{"p":"I","r":2830},{"p":"I","r":2970},{"p":"I","r":3110},{"p":"I","r":3250},{"p":"I","r":3390},{"p":"I","r":3530},{"p":"I","r":3670},{"p":"I","r":3810},{"p":"I","r":3950},{"p":"I","r":4090},{"p":"I","r":4230},{"p":"I","r":4370},{"p":"I","r":4510},{"p":"I","r":4650},{"p":"I","r":4790},{"p":"I","r":4930},{"p":"I","r":5070},{"p":"I","r":5210},{"p":"I","r":5350},{"p":"I","r":5830},{"p":"I","r":6003},{"p":"I","r":6350},{"p":"I","r":6524},{"p":"I","r":6697},{"p":"I","r":7218},{"p":"I","r":7565},{"p":"I","r":7738},{"p":"I","r":8606},{"p":"I","r":8779},{"p":"I","r":10341},{"p":"I","r":10861},{"p":"I","r":11729},{"p":"I","r":12006},{"p":"I","r":12249},{"p":"I","r":13117},{"p":"I","r":13290},{"p":"I","r":13533},{"p":"I","r":13811},{"p":"I","r":14088},{"p":"I","r":14505},{"p":"I","r":15199},{"p":"I","r":15476},{"p":"I","r":15823},{"p":"I","r":16240},{"p":"I","r":16587},{"p":"I","r":16934},{"p":"I","r":17281},{"p":"I","r":18669},{"p":"I","r":19189},{"p":"I","r":19710},{"p":"I","r":20751},{"p":"I","r":20924},{"p":"I","r":21098},{"p":"I","r":21445},{"p":"I","r":21618},{"p":"I","r":21861},{"p":"I","r":22312},{"p":"I","r":22763},{"p":"I","r":23180},{"p":"I","r":23527},{"p":"I","r":24221},{"p":"I","r":24568},{"p":"I","r":24741},{"p":"I","r":25678},{"p":"I","r":26476},{"p":"I","r":28385},{"p":"I","r":28558},{"p":"I","r":28732},{"p":"I","r":29426},{"p":"I","r":29946},{"p":"I","r":30814},{"p":"I","r":31334},{"p":"I","r":31508},{"p":"I","r":31681},{"p":"I","r":31855},{"p":"I","r":32028},{"p":"I","r":32271},{"p":"I","r":32549},{"p":"I","r":32896},{"p":"I","r":33243},{"p":"I","r":33590},{"p":"I","r":33763},{"p":"I","r":33937},{"p":"I","r":34110},{"p":"I","r":34978},{"p":"I","r":35151},{"p":"I","r":35325},{"p":"I","r":35498},{"p":"I","r":35672},{"p":"I","r":35845},{"p":"I","r":36088},{"p":"I","r":36435},{"p":"I","r":36713},{"p":"I","r":37129},{"p":"I","r":37407},{"p":"I","r":37754},{"p":"I","r":38101},{"p":"I","r":38450},
{"p":"J","r":170},{"p":"J","r":509},{"p":"J","r":678},{"p":"J","r":780},{"p":"J","r":915},{"p":"J","r":1119},{"p":"J","r":1254},{"p":"J","r":1593},{"p":"J","r":1695},{"p":"J","r":1797},{"p":"J","r":1932},{"p":"J","r":2034},{"p":"J","r":2543},{"p":"J","r":2712},{"p":"J","r":3627},{"p":"J","r":3831},{"p":"J","r":3966},{"p":"J","r":4068},{"p":"J","r":4238},{"p":"J","r":4746},{"p":"J","r":4916},{"p":"J","r":5187},{"p":"J","r":5424},{"p":"J","r":5661},{"p":"J","r":6000},{"p":"J","r":7695},{"p":"J","r":8814},{"p":"J","r":10170},{"p":"J","r":11628},{"p":"J","r":14814},{"p":"J","r":20340},{"p":"J","r":20442},{"p":"J","r":20577},{"p":"J","r":22137},{"p":"J","r":22374},{"p":"J","r":22611},{"p":"J","r":28137},{"p":"J","r":29730},{"p":"J","r":30069},{"p":"J","r":30849},{"p":"J","r":30951},{"p":"J","r":31086},{"p":"J","r":33053},{"p":"J","r":33222},{"p":"J","r":33798},{"p":"J","r":34239},{"p":"J","r":35595},{"p":"J","r":36104},{"p":"J","r":37053},{"p":"J","r":37188},{"p":"J","r":37968},{"p":"J","r":38138}
],
"metric": [
{"r":0,"m":0.33},{"r":150,"m":0.3},{"r":350,"m":0.28},{"r":1000,"m":0.245},{"r":2400,"m":0.21},{"r":4200,"m":0.17},{"r":6000,"m":0.145},{"r":9400,"m":0.114},{"r":12900,"m":0.088},{"r":16300,"m":0.068},{"r":19800,"m":0.049},{"r":22300,"m":0.034},{"r":25000,"m":0.016},{"r":26962,"m":0},{"r":30300,"m":-0.038},{"r":33700,"m":-0.087},{"r":35500,"m":-0.125},{"r":36900,"m":-0.19},{"r":37700,"m":-0.246},{"r":38200,"m":-0.32},{"r":38400,"m":-0.4},{"r":38450,"m":-0.47}
],
"bands": [
{"r0":0,"r1":700,"m":0.3},{"r0":700,"r1":3600,"m":0.2},{"r0":3600,"r1":11600,"m":0.13},{"r0":11600,"r1":17800,"m":0.08},{"r0":17800,"r1":22500,"m":0.04},{"r0":22500,"r1":28000,"m":0.0},{"r0":28000,"r1":33000,"m":-0.05},{"r0":33000,"r1":37000,"m":-0.12},{"r0":37000,"r1":38500,"m":-0.3}
]
},
"spacing": 3,
"resolve": {"scale": {"color": "independent"}},
"vconcat": [
{"hconcat": [
{"title": {"text": "A", "anchor": "start", "frame": "bounds", "font": "Open Sans", "fontSize": 28, "fontWeight": "normal", "dx": -30, "dy": 45, "offset": 0},
"spacing": 0, "bounds": "flush",
"vconcat": [
{"width": 387, "height": 148, "title": {"text": ["Enrichment plot:", "HALLMARK_OXIDATIVE_PHOSPHORYLATION"], "frame": "bounds", "lineHeight": 19, "offset": 5},
"layer": [
{"data": {"values": [{}]}, "mark": {"type": "rule", "color": "#9a9a9a", "strokeWidth": 1.2}, "encoding": {"y": {"datum": 0, "type": "quantitative"}}},
{"data": {"name": "es"}, "transform": [{"filter": "datum.p === 'A'"}], "mark": {"type": "line", "strokeWidth": 2.6},
"encoding": {"x": {"field": "r", "type": "quantitative", "scale": {"domain": [0, 40400], "nice": false, "zero": false}, "axis": {"labels": false, "ticks": false, "domain": false, "title": null, "grid": true, "values": [0,5000,10000,15000,20000,25000,30000,35000,40000]}},
"y": {"field": "v", "type": "quantitative", "scale": {"domain": [-0.79, 0.005], "nice": false, "zero": false}, "axis": {"title": "Enrichment score (ES)", "values": [-0.7,-0.6,-0.5,-0.4,-0.3,-0.2,-0.1,0], "format": ".1f", "tickCount": 20, "labelFontSize": 10.5, "titleFontSize": 10.5, "grid": true, "labelOverlap": false}},
"color": {"datum": "Enrichment profile", "type": "nominal", "scale": {"domain": ["Enrichment profile", "Hits", "Ranking metric scores"], "range": ["#22e622", "#555555", "#dcdcdc"]}, "legend": {"orient": "none", "legendX": 15, "legendY": 320, "direction": "horizontal", "title": null, "symbolType": "stroke", "symbolStrokeWidth": 2.5, "symbolSize": 180, "labelFontSize": 10, "labelColor": "#222", "strokeColor": "#333", "fillColor": "#f5f5f5", "padding": 3, "columnPadding": 9, "labelOffset": 3}}}}
]},
{"width": 387, "height": 44, "data": {"name": "hits"}, "transform": [{"filter": "datum.p === 'A'"}], "mark": {"type": "rule", "color": "#1c1c1c", "strokeWidth": 1.1}, "encoding": {"x": {"field": "r", "type": "quantitative", "scale": {"domain": [0, 40400], "nice": false, "zero": false}, "axis": null}}},
{"width": 387, "height": 11, "data": {"name": "bands"}, "mark": "rect", "encoding": {"x": {"field": "r0", "type": "quantitative", "scale": {"domain": [0, 40400], "nice": false, "zero": false}, "axis": null}, "x2": {"field": "r1"}, "fill": {"field": "m", "type": "quantitative", "scale": {"type": "threshold", "domain": [-0.2,-0.08,-0.02,0.02,0.06,0.1,0.17,0.25], "range": ["#2a08c8","#6a62ec","#cbcaf6","#f6bde6","#f78e8f","#f46a7c","#f14a52","#de2a2a","#c40c0c"]}, "legend": null}}},
{"width": 387, "height": 88, "layer": [
{"data": {"name": "metric"}, "mark": {"type": "area", "color": "#c2c2c2", "interpolate": "monotone"}, "encoding": {"x": {"field": "r", "type": "quantitative", "scale": {"domain": [0, 40400], "nice": false, "zero": false}, "axis": {"title": "Rank in Ordered Dataset", "values": [0,5000,10000,15000,20000,25000,30000,35000,40000], "format": ",d", "labelFontSize": 8.3, "labelFontWeight": "bold", "labelColor": "#444", "titleFontSize": 10, "labelFlush": false, "labelOverlap": false, "grid": true, "titlePadding": 3}}, "y": {"field": "m", "type": "quantitative", "scale": {"domain": [-0.51, 0.48], "nice": false, "zero": false}, "axis": {"title": "Ranked list metric (Signal2Noise)", "values": [-0.4,-0.2,0,0.2,0.4], "format": ".1f", "tickCount": 20, "labelFontSize": 8.3, "labelFontWeight": "bold", "labelColor": "#444", "titleFontSize": 8.3, "grid": true, "labelOverlap": false}}}},
{"data": {"values": [{}]}, "mark": {"type": "rule", "color": "#aaaaaa", "strokeDash": [3, 3]}, "encoding": {"x": {"datum": 26962}}},
{"data": {"values": [{}]}, "mark": {"type": "rect", "color": "white"}, "encoding": {"x": {"datum": 23100}, "x2": {"datum": 30800}, "y": {"datum": 0.004}, "y2": {"datum": -0.05}}},
{"data": {"values": [{}]}, "mark": {"type": "text", "text": "Zero cross at 26962", "fontSize": 7.5, "color": "#333"}, "encoding": {"x": {"datum": 26962}, "y": {"datum": -0.023}}},
{"data": {"values": [{}]}, "mark": {"type": "text", "text": "'HR' (positively correlated)", "fontSize": 8.3, "color": "#e34a64", "align": "left", "baseline": "top", "dx": 2, "dy": 1}, "encoding": {"x": {"datum": 0}, "y": {"datum": 0.48}}},
{"data": {"values": [{}]}, "mark": {"type": "text", "text": "'LR' (negatively correlated)", "fontSize": 8.3, "color": "#5c5cd6", "baseline": "bottom", "dy": -2}, "encoding": {"x": {"datum": 26100}, "y": {"datum": -0.51}}}
]}
]},
{"title": {"text": "B", "anchor": "start", "frame": "bounds", "font": "Open Sans", "fontSize": 28, "fontWeight": "normal", "dx": -30, "dy": 12, "offset": 0},
"spacing": 0, "bounds": "flush",
"vconcat": [
{"width": 392, "height": 137, "title": {"text": "Enrichment plot: HALLMARK_UV_RESPONSE_DN", "frame": "bounds", "offset": 8},
"layer": [
{"data": {"values": [{}]}, "mark": {"type": "rule", "color": "#9a9a9a", "strokeWidth": 1.2}, "encoding": {"y": {"datum": 0, "type": "quantitative"}}},
{"data": {"name": "es"}, "transform": [{"filter": "datum.p === 'B'"}], "mark": {"type": "line", "strokeWidth": 2.6},
"encoding": {"x": {"field": "r", "type": "quantitative", "scale": {"domain": [0, 40400], "nice": false, "zero": false}, "axis": {"labels": false, "ticks": false, "domain": false, "title": null, "grid": true, "values": [0,5000,10000,15000,20000,25000,30000,35000,40000]}},
"y": {"field": "v", "type": "quantitative", "scale": {"domain": [-0.028, 0.619], "nice": false, "zero": false}, "axis": {"title": "Enrichment score (ES)", "values": [0,0.1,0.2,0.3,0.4,0.5,0.6], "format": ".1f", "tickCount": 20, "labelFontSize": 10.5, "titleFontSize": 10.5, "grid": true, "labelOverlap": false}},
"color": {"datum": "Enrichment profile", "type": "nominal", "scale": {"domain": ["Enrichment profile", "Hits", "Ranking metric scores"], "range": ["#22e622", "#555555", "#dcdcdc"]}, "legend": {"orient": "none", "legendX": 17, "legendY": 320, "direction": "horizontal", "title": null, "symbolType": "stroke", "symbolStrokeWidth": 2.5, "symbolSize": 180, "labelFontSize": 10, "labelColor": "#222", "strokeColor": "#333", "fillColor": "#f5f5f5", "padding": 3, "columnPadding": 9, "labelOffset": 3}}}}
]},
{"width": 392, "height": 48, "data": {"name": "hits"}, "transform": [{"filter": "datum.p === 'B'"}], "mark": {"type": "rule", "color": "#1c1c1c", "strokeWidth": 1.1}, "encoding": {"x": {"field": "r", "type": "quantitative", "scale": {"domain": [0, 40400], "nice": false, "zero": false}, "axis": null}}},
{"width": 392, "height": 12, "data": {"name": "bands"}, "mark": "rect", "encoding": {"x": {"field": "r0", "type": "quantitative", "scale": {"domain": [0, 40400], "nice": false, "zero": false}, "axis": null}, "x2": {"field": "r1"}, "fill": {"field": "m", "type": "quantitative", "scale": {"type": "threshold", "domain": [-0.2,-0.08,-0.02,0.02,0.06,0.1,0.17,0.25], "range": ["#2a08c8","#6a62ec","#cbcaf6","#f6bde6","#f78e8f","#f46a7c","#f14a52","#de2a2a","#c40c0c"]}, "legend": null}}},
{"width": 392, "height": 93, "layer": [
{"data": {"name": "metric"}, "mark": {"type": "area", "color": "#c2c2c2", "interpolate": "monotone"}, "encoding": {"x": {"field": "r", "type": "quantitative", "scale": {"domain": [0, 40400], "nice": false, "zero": false}, "axis": {"title": "Rank in Ordered Dataset", "values": [0,5000,10000,15000,20000,25000,30000,35000,40000], "format": ",d", "labelFontSize": 8.3, "labelFontWeight": "bold", "labelColor": "#444", "titleFontSize": 10, "labelFlush": false, "labelOverlap": false, "grid": true, "titlePadding": 3}}, "y": {"field": "m", "type": "quantitative", "scale": {"domain": [-0.51, 0.48], "nice": false, "zero": false}, "axis": {"title": "Ranked list metric (Signal2Noise)", "values": [-0.4,-0.2,0,0.2,0.4], "format": ".1f", "tickCount": 20, "labelFontSize": 8.3, "labelFontWeight": "bold", "labelColor": "#444", "titleFontSize": 8.3, "grid": true, "labelOverlap": false}}}},
{"data": {"values": [{}]}, "mark": {"type": "rule", "color": "#aaaaaa", "strokeDash": [3, 3]}, "encoding": {"x": {"datum": 26962}}},
{"data": {"values": [{}]}, "mark": {"type": "rect", "color": "white"}, "encoding": {"x": {"datum": 23100}, "x2": {"datum": 30800}, "y": {"datum": 0.004}, "y2": {"datum": -0.05}}},
{"data": {"values": [{}]}, "mark": {"type": "text", "text": "Zero cross at 26962", "fontSize": 7.5, "color": "#333"}, "encoding": {"x": {"datum": 26962}, "y": {"datum": -0.023}}},
{"data": {"values": [{}]}, "mark": {"type": "text", "text": "'HR' (positively correlated)", "fontSize": 8.3, "color": "#e34a64", "align": "left", "baseline": "top", "dx": 2, "dy": 1}, "encoding": {"x": {"datum": 0}, "y": {"datum": 0.48}}},
{"data": {"values": [{}]}, "mark": {"type": "text", "text": "'LR' (negatively correlated)", "fontSize": 8.3, "color": "#5c5cd6", "baseline": "bottom", "dy": -2}, "encoding": {"x": {"datum": 26100}, "y": {"datum": -0.51}}}
]}
]},
{"title": {"text": "C", "anchor": "start", "frame": "bounds", "font": "Open Sans", "fontSize": 28, "fontWeight": "normal", "dx": -41, "dy": 12, "offset": 0},
"spacing": 0, "bounds": "flush",
"vconcat": [
{"width": 393, "height": 139, "title": {"text": "Enrichment plot: HALLMARK_HEDGEHOG_SIGNALING", "frame": "bounds", "offset": 8},
"layer": [
{"data": {"values": [{}]}, "mark": {"type": "rule", "color": "#9a9a9a", "strokeWidth": 1.2}, "encoding": {"y": {"datum": 0, "type": "quantitative"}}},
{"data": {"name": "es"}, "transform": [{"filter": "datum.p === 'C'"}], "mark": {"type": "line", "strokeWidth": 2.6},
"encoding": {"x": {"field": "r", "type": "quantitative", "scale": {"domain": [0, 40400], "nice": false, "zero": false}, "axis": {"labels": false, "ticks": false, "domain": false, "title": null, "grid": true, "values": [0,5000,10000,15000,20000,25000,30000,35000,40000]}},
"y": {"field": "v", "type": "quantitative", "scale": {"domain": [-0.031, 0.69], "nice": false, "zero": false}, "axis": {"title": "Enrichment score (ES)", "values": [0,0.1,0.2,0.3,0.4,0.5,0.6], "format": ".1f", "tickCount": 20, "labelFontSize": 10.5, "titleFontSize": 10.5, "grid": true, "labelOverlap": false}},
"color": {"datum": "Enrichment profile", "type": "nominal", "scale": {"domain": ["Enrichment profile", "Hits", "Ranking metric scores"], "range": ["#22e622", "#555555", "#dcdcdc"]}, "legend": {"orient": "none", "legendX": 17, "legendY": 322, "direction": "horizontal", "title": null, "symbolType": "stroke", "symbolStrokeWidth": 2.5, "symbolSize": 180, "labelFontSize": 10, "labelColor": "#222", "strokeColor": "#333", "fillColor": "#f5f5f5", "padding": 3, "columnPadding": 9, "labelOffset": 3}}}}
]},
{"width": 393, "height": 47, "data": {"name": "hits"}, "transform": [{"filter": "datum.p === 'C'"}], "mark": {"type": "rule", "color": "#1c1c1c", "strokeWidth": 1.1}, "encoding": {"x": {"field": "r", "type": "quantitative", "scale": {"domain": [0, 40400], "nice": false, "zero": false}, "axis": null}}},
{"width": 393, "height": 12, "data": {"name": "bands"}, "mark": "rect", "encoding": {"x": {"field": "r0", "type": "quantitative", "scale": {"domain": [0, 40400], "nice": false, "zero": false}, "axis": null}, "x2": {"field": "r1"}, "fill": {"field": "m", "type": "quantitative", "scale": {"type": "threshold", "domain": [-0.2,-0.08,-0.02,0.02,0.06,0.1,0.17,0.25], "range": ["#2a08c8","#6a62ec","#cbcaf6","#f6bde6","#f78e8f","#f46a7c","#f14a52","#de2a2a","#c40c0c"]}, "legend": null}}},
{"width": 393, "height": 93, "layer": [
{"data": {"name": "metric"}, "mark": {"type": "area", "color": "#c2c2c2", "interpolate": "monotone"}, "encoding": {"x": {"field": "r", "type": "quantitative", "scale": {"domain": [0, 40400], "nice": false, "zero": false}, "axis": {"title": "Rank in Ordered Dataset", "values": [0,5000,10000,15000,20000,25000,30000,35000,40000], "format": ",d", "labelFontSize": 8.3, "labelFontWeight": "bold", "labelColor": "#444", "titleFontSize": 10, "labelFlush": false, "labelOverlap": false, "grid": true, "titlePadding": 3}}, "y": {"field": "m", "type": "quantitative", "scale": {"domain": [-0.51, 0.48], "nice": false, "zero": false}, "axis": {"title": "Ranked list metric (Signal2Noise)", "values": [-0.4,-0.2,0,0.2,0.4], "format": ".1f", "tickCount": 20, "labelFontSize": 8.3, "labelFontWeight": "bold", "labelColor": "#444", "titleFontSize": 8.3, "grid": true, "labelOverlap": false}}}},
{"data": {"values": [{}]}, "mark": {"type": "rule", "color": "#aaaaaa", "strokeDash": [3, 3]}, "encoding": {"x": {"datum": 26962}}},
{"data": {"values": [{}]}, "mark": {"type": "rect", "color": "white"}, "encoding": {"x": {"datum": 23100}, "x2": {"datum": 30800}, "y": {"datum": 0.004}, "y2": {"datum": -0.05}}},
{"data": {"values": [{}]}, "mark": {"type": "text", "text": "Zero cross at 26962", "fontSize": 7.5, "color": "#333"}, "encoding": {"x": {"datum": 26962}, "y": {"datum": -0.023}}},
{"data": {"values": [{}]}, "mark": {"type": "text", "text": "'HR' (positively correlated)", "fontSize": 8.3, "color": "#e34a64", "align": "left", "baseline": "top", "dx": 2, "dy": 1}, "encoding": {"x": {"datum": 0}, "y": {"datum": 0.48}}},
{"data": {"values": [{}]}, "mark": {"type": "text", "text": "'LR' (negatively correlated)", "fontSize": 8.3, "color": "#5c5cd6", "baseline": "bottom", "dy": -2}, "encoding": {"x": {"datum": 26100}, "y": {"datum": -0.51}}}
]}
]},
{"title": {"text": "D", "anchor": "start", "frame": "bounds", "font": "Open Sans", "fontSize": 28, "fontWeight": "normal", "dx": -32, "dy": 12, "offset": 0},
"spacing": 0, "bounds": "flush",
"vconcat": [
{"width": 409, "height": 138, "title": {"text": "Enrichment plot: HALLMARK_MYOGENESIS", "frame": "bounds", "offset": 8},
"layer": [
{"data": {"values": [{}]}, "mark": {"type": "rule", "color": "#9a9a9a", "strokeWidth": 1.2}, "encoding": {"y": {"datum": 0, "type": "quantitative"}}},
{"data": {"name": "es"}, "transform": [{"filter": "datum.p === 'D'"}], "mark": {"type": "line", "strokeWidth": 2.6},
"encoding": {"x": {"field": "r", "type": "quantitative", "scale": {"domain": [0, 40400], "nice": false, "zero": false}, "axis": {"labels": false, "ticks": false, "domain": false, "title": null, "grid": true, "values": [0,5000,10000,15000,20000,25000,30000,35000,40000]}},
"y": {"field": "v", "type": "quantitative", "scale": {"domain": [-0.048, 0.579], "nice": false, "zero": false}, "axis": {"title": "Enrichment score (ES)", "values": [0,0.1,0.2,0.3,0.4,0.5], "format": ".1f", "tickCount": 20, "labelFontSize": 10.5, "titleFontSize": 10.5, "grid": true, "labelOverlap": false}},
"color": {"datum": "Enrichment profile", "type": "nominal", "scale": {"domain": ["Enrichment profile", "Hits", "Ranking metric scores"], "range": ["#22e622", "#555555", "#dcdcdc"]}, "legend": {"orient": "none", "legendX": 19, "legendY": 320, "direction": "horizontal", "title": null, "symbolType": "stroke", "symbolStrokeWidth": 2.5, "symbolSize": 180, "labelFontSize": 10, "labelColor": "#222", "strokeColor": "#333", "fillColor": "#f5f5f5", "padding": 3, "columnPadding": 9, "labelOffset": 3}}}}
]},
{"width": 409, "height": 47, "data": {"name": "hits"}, "transform": [{"filter": "datum.p === 'D'"}], "mark": {"type": "rule", "color": "#1c1c1c", "strokeWidth": 1.1}, "encoding": {"x": {"field": "r", "type": "quantitative", "scale": {"domain": [0, 40400], "nice": false, "zero": false}, "axis": null}}},
{"width": 409, "height": 12, "data": {"name": "bands"}, "mark": "rect", "encoding": {"x": {"field": "r0", "type": "quantitative", "scale": {"domain": [0, 40400], "nice": false, "zero": false}, "axis": null}, "x2": {"field": "r1"}, "fill": {"field": "m", "type": "quantitative", "scale": {"type": "threshold", "domain": [-0.2,-0.08,-0.02,0.02,0.06,0.1,0.17,0.25], "range": ["#2a08c8","#6a62ec","#cbcaf6","#f6bde6","#f78e8f","#f46a7c","#f14a52","#de2a2a","#c40c0c"]}, "legend": null}}},
{"width": 409, "height": 92, "layer": [
{"data": {"name": "metric"}, "mark": {"type": "area", "color": "#c2c2c2", "interpolate": "monotone"}, "encoding": {"x": {"field": "r", "type": "quantitative", "scale": {"domain": [0, 40400], "nice": false, "zero": false}, "axis": {"title": "Rank in Ordered Dataset", "values": [0,5000,10000,15000,20000,25000,30000,35000,40000], "format": ",d", "labelFontSize": 8.3, "labelFontWeight": "bold", "labelColor": "#444", "titleFontSize": 10, "labelFlush": false, "labelOverlap": false, "grid": true, "titlePadding": 3}}, "y": {"field": "m", "type": "quantitative", "scale": {"domain": [-0.51, 0.48], "nice": false, "zero": false}, "axis": {"title": "Ranked list metric (Signal2Noise)", "values": [-0.4,-0.2,0,0.2,0.4], "format": ".1f", "tickCount": 20, "labelFontSize": 8.3, "labelFontWeight": "bold", "labelColor": "#444", "titleFontSize": 8.3, "grid": true, "labelOverlap": false}}}},
{"data": {"values": [{}]}, "mark": {"type": "rule", "color": "#aaaaaa", "strokeDash": [3, 3]}, "encoding": {"x": {"datum": 26962}}},
{"data": {"values": [{}]}, "mark": {"type": "rect", "color": "white"}, "encoding": {"x": {"datum": 23100}, "x2": {"datum": 30800}, "y": {"datum": 0.004}, "y2": {"datum": -0.05}}},
{"data": {"values": [{}]}, "mark": {"type": "text", "text": "Zero cross at 26962", "fontSize": 7.5, "color": "#333"}, "encoding": {"x": {"datum": 26962}, "y": {"datum": -0.023}}},
{"data": {"values": [{}]}, "mark": {"type": "text", "text": "'HR' (positively correlated)", "fontSize": 8.3, "color": "#e34a64", "align": "left", "baseline": "top", "dx": 2, "dy": 1}, "encoding": {"x": {"datum": 0}, "y": {"datum": 0.48}}},
{"data": {"values": [{}]}, "mark": {"type": "text", "text": "'LR' (negatively correlated)", "fontSize": 8.3, "color": "#5c5cd6", "baseline": "bottom", "dy": -2}, "encoding": {"x": {"datum": 26100}, "y": {"datum": -0.51}}}
]}
]}
], "spacing": 13, "resolve": {"scale": {"color": "independent"}}},
{"hconcat": [
{"title": {"text": "E", "anchor": "start", "frame": "bounds", "font": "Open Sans", "fontSize": 28, "fontWeight": "normal", "dx": -30, "dy": 47, "offset": 0},
"spacing": 0, "bounds": "flush",
"vconcat": [
{"width": 387, "height": 146, "title": {"text": ["Enrichment plot:", "HALLMARK_EPITHELIAL_MESENCHYMAL_TRANSITION"], "frame": "bounds", "lineHeight": 19, "offset": 5},
"layer": [
{"data": {"values": [{}]}, "mark": {"type": "rule", "color": "#9a9a9a", "strokeWidth": 1.2}, "encoding": {"y": {"datum": 0, "type": "quantitative"}}},
{"data": {"name": "es"}, "transform": [{"filter": "datum.p === 'E'"}], "mark": {"type": "line", "strokeWidth": 2.6},
"encoding": {"x": {"field": "r", "type": "quantitative", "scale": {"domain": [0, 40400], "nice": false, "zero": false}, "axis": {"labels": false, "ticks": false, "domain": false, "title": null, "grid": true, "values": [0,5000,10000,15000,20000,25000,30000,35000,40000]}},
"y": {"field": "v", "type": "quantitative", "scale": {"domain": [-0.033, 0.714], "nice": false, "zero": false}, "axis": {"title": "Enrichment score (ES)", "values": [0,0.1,0.2,0.3,0.4,0.5,0.6,0.7], "format": ".1f", "tickCount": 20, "labelFontSize": 10.5, "titleFontSize": 10.5, "grid": true, "labelOverlap": false}},
"color": {"datum": "Enrichment profile", "type": "nominal", "scale": {"domain": ["Enrichment profile", "Hits", "Ranking metric scores"], "range": ["#22e622", "#555555", "#dcdcdc"]}, "legend": {"orient": "none", "legendX": 18, "legendY": 315, "direction": "horizontal", "title": null, "symbolType": "stroke", "symbolStrokeWidth": 2.5, "symbolSize": 180, "labelFontSize": 10, "labelColor": "#222", "strokeColor": "#333", "fillColor": "#f5f5f5", "padding": 3, "columnPadding": 9, "labelOffset": 3}}}}
]},
{"width": 387, "height": 43, "data": {"name": "hits"}, "transform": [{"filter": "datum.p === 'E'"}], "mark": {"type": "rule", "color": "#1c1c1c", "strokeWidth": 1.1}, "encoding": {"x": {"field": "r", "type": "quantitative", "scale": {"domain": [0, 40400], "nice": false, "zero": false}, "axis": null}}},
{"width": 387, "height": 11, "data": {"name": "bands"}, "mark": "rect", "encoding": {"x": {"field": "r0", "type": "quantitative", "scale": {"domain": [0, 40400], "nice": false, "zero": false}, "axis": null}, "x2": {"field": "r1"}, "fill": {"field": "m", "type": "quantitative", "scale": {"type": "threshold", "domain": [-0.2,-0.08,-0.02,0.02,0.06,0.1,0.17,0.25], "range": ["#2a08c8","#6a62ec","#cbcaf6","#f6bde6","#f78e8f","#f46a7c","#f14a52","#de2a2a","#c40c0c"]}, "legend": null}}},
{"width": 387, "height": 87, "layer": [
{"data": {"name": "metric"}, "mark": {"type": "area", "color": "#c2c2c2", "interpolate": "monotone"}, "encoding": {"x": {"field": "r", "type": "quantitative", "scale": {"domain": [0, 40400], "nice": false, "zero": false}, "axis": {"title": "Rank in Ordered Dataset", "values": [0,5000,10000,15000,20000,25000,30000,35000,40000], "format": ",d", "labelFontSize": 8.3, "labelFontWeight": "bold", "labelColor": "#444", "titleFontSize": 10, "labelFlush": false, "labelOverlap": false, "grid": true, "titlePadding": 3}}, "y": {"field": "m", "type": "quantitative", "scale": {"domain": [-0.51, 0.48], "nice": false, "zero": false}, "axis": {"title": "Ranked list metric (Signal2Noise)", "values": [-0.4,-0.2,0,0.2,0.4], "format": ".1f", "tickCount": 20, "labelFontSize": 8.3, "labelFontWeight": "bold", "labelColor": "#444", "titleFontSize": 8.3, "grid": true, "labelOverlap": false}}}},
{"data": {"values": [{}]}, "mark": {"type": "rule", "color": "#aaaaaa", "strokeDash": [3, 3]}, "encoding": {"x": {"datum": 26962}}},
{"data": {"values": [{}]}, "mark": {"type": "rect", "color": "white"}, "encoding": {"x": {"datum": 23100}, "x2": {"datum": 30800}, "y": {"datum": 0.004}, "y2": {"datum": -0.05}}},
{"data": {"values": [{}]}, "mark": {"type": "text", "text": "Zero cross at 26962", "fontSize": 7.5, "color": "#333"}, "encoding": {"x": {"datum": 26962}, "y": {"datum": -0.023}}},
{"data": {"values": [{}]}, "mark": {"type": "text", "text": "'HR' (positively correlated)", "fontSize": 8.3, "color": "#e34a64", "align": "left", "baseline": "top", "dx": 2, "dy": 1}, "encoding": {"x": {"datum": 0}, "y": {"datum": 0.48}}},
{"data": {"values": [{}]}, "mark": {"type": "text", "text": "'LR' (negatively correlated)", "fontSize": 8.3, "color": "#5c5cd6", "baseline": "bottom", "dy": -2}, "encoding": {"x": {"datum": 26100}, "y": {"datum": -0.51}}}
]}
]},
{"title": {"text": "F", "anchor": "start", "frame": "bounds", "font": "Open Sans", "fontSize": 28, "fontWeight": "normal", "dx": -30, "dy": 19, "offset": 0},
"spacing": 0, "bounds": "flush",
"vconcat": [
{"width": 400, "height": 136, "title": {"text": "Enrichment plot: HALLMARK_ANGIOGENESIS", "frame": "bounds", "offset": 8},
"layer": [
{"data": {"values": [{}]}, "mark": {"type": "rule", "color": "#9a9a9a", "strokeWidth": 1.2}, "encoding": {"y": {"datum": 0, "type": "quantitative"}}},
{"data": {"name": "es"}, "transform": [{"filter": "datum.p === 'F'"}], "mark": {"type": "line", "strokeWidth": 2.6},
"encoding": {"x": {"field": "r", "type": "quantitative", "scale": {"domain": [0, 40400], "nice": false, "zero": false}, "axis": {"labels": false, "ticks": false, "domain": false, "title": null, "grid": true, "values": [0,5000,10000,15000,20000,25000,30000,35000,40000]}},
"y": {"field": "v", "type": "quantitative", "scale": {"domain": [-0.037, 0.658], "nice": false, "zero": false}, "axis": {"title": "Enrichment score (ES)", "values": [0,0.1,0.2,0.3,0.4,0.5,0.6], "format": ".1f", "tickCount": 20, "labelFontSize": 10.5, "titleFontSize": 10.5, "grid": true, "labelOverlap": false}},
"color": {"datum": "Enrichment profile", "type": "nominal", "scale": {"domain": ["Enrichment profile", "Hits", "Ranking metric scores"], "range": ["#22e622", "#555555", "#dcdcdc"]}, "legend": {"orient": "none", "legendX": 19, "legendY": 315, "direction": "horizontal", "title": null, "symbolType": "stroke", "symbolStrokeWidth": 2.5, "symbolSize": 180, "labelFontSize": 10, "labelColor": "#222", "strokeColor": "#333", "fillColor": "#f5f5f5", "padding": 3, "columnPadding": 9, "labelOffset": 3}}}}
]},
{"width": 400, "height": 46, "data": {"name": "hits"}, "transform": [{"filter": "datum.p === 'F'"}], "mark": {"type": "rule", "color": "#1c1c1c", "strokeWidth": 1.1}, "encoding": {"x": {"field": "r", "type": "quantitative", "scale": {"domain": [0, 40400], "nice": false, "zero": false}, "axis": null}}},
{"width": 400, "height": 12, "data": {"name": "bands"}, "mark": "rect", "encoding": {"x": {"field": "r0", "type": "quantitative", "scale": {"domain": [0, 40400], "nice": false, "zero": false}, "axis": null}, "x2": {"field": "r1"}, "fill": {"field": "m", "type": "quantitative", "scale": {"type": "threshold", "domain": [-0.2,-0.08,-0.02,0.02,0.06,0.1,0.17,0.25], "range": ["#2a08c8","#6a62ec","#cbcaf6","#f6bde6","#f78e8f","#f46a7c","#f14a52","#de2a2a","#c40c0c"]}, "legend": null}}},
{"width": 400, "height": 90, "layer": [
{"data": {"name": "metric"}, "mark": {"type": "area", "color": "#c2c2c2", "interpolate": "monotone"}, "encoding": {"x": {"field": "r", "type": "quantitative", "scale": {"domain": [0, 40400], "nice": false, "zero": false}, "axis": {"title": "Rank in Ordered Dataset", "values": [0,5000,10000,15000,20000,25000,30000,35000,40000], "format": ",d", "labelFontSize": 8.3, "labelFontWeight": "bold", "labelColor": "#444", "titleFontSize": 10, "labelFlush": false, "labelOverlap": false, "grid": true, "titlePadding": 3}}, "y": {"field": "m", "type": "quantitative", "scale": {"domain": [-0.51, 0.48], "nice": false, "zero": false}, "axis": {"title": "Ranked list metric (Signal2Noise)", "values": [-0.4,-0.2,0,0.2,0.4], "format": ".1f", "tickCount": 20, "labelFontSize": 8.3, "labelFontWeight": "bold", "labelColor": "#444", "titleFontSize": 8.3, "grid": true, "labelOverlap": false}}}},
{"data": {"values": [{}]}, "mark": {"type": "rule", "color": "#aaaaaa", "strokeDash": [3, 3]}, "encoding": {"x": {"datum": 26962}}},
{"data": {"values": [{}]}, "mark": {"type": "rect", "color": "white"}, "encoding": {"x": {"datum": 23100}, "x2": {"datum": 30800}, "y": {"datum": 0.004}, "y2": {"datum": -0.05}}},
{"data": {"values": [{}]}, "mark": {"type": "text", "text": "Zero cross at 26962", "fontSize": 7.5, "color": "#333"}, "encoding": {"x": {"datum": 26962}, "y": {"datum": -0.023}}},
{"data": {"values": [{}]}, "mark": {"type": "text", "text": "'HR' (positively correlated)", "fontSize": 8.3, "color": "#e34a64", "align": "left", "baseline": "top", "dx": 2, "dy": 1}, "encoding": {"x": {"datum": 0}, "y": {"datum": 0.48}}},
{"data": {"values": [{}]}, "mark": {"type": "text", "text": "'LR' (negatively correlated)", "fontSize": 8.3, "color": "#5c5cd6", "baseline": "bottom", "dy": -2}, "encoding": {"x": {"datum": 26100}, "y": {"datum": -0.51}}}
]}
]},
{"title": {"text": "G", "anchor": "start", "frame": "bounds", "font": "Open Sans", "fontSize": 28, "fontWeight": "normal", "dx": -30, "dy": 19, "offset": 0},
"spacing": 0, "bounds": "flush",
"vconcat": [
{"width": 393, "height": 138, "title": {"text": "Enrichment plot: HALLMARK_MITOTIC_SPINDLE", "frame": "bounds", "offset": 8},
"layer": [
{"data": {"values": [{}]}, "mark": {"type": "rule", "color": "#9a9a9a", "strokeWidth": 1.2}, "encoding": {"y": {"datum": 0, "type": "quantitative"}}},
{"data": {"name": "es"}, "transform": [{"filter": "datum.p === 'G'"}], "mark": {"type": "line", "strokeWidth": 2.6},
"encoding": {"x": {"field": "r", "type": "quantitative", "scale": {"domain": [0, 40400], "nice": false, "zero": false}, "axis": {"labels": false, "ticks": false, "domain": false, "title": null, "grid": true, "values": [0,5000,10000,15000,20000,25000,30000,35000,40000]}},
"y": {"field": "v", "type": "quantitative", "scale": {"domain": [-0.023, 0.545], "nice": false, "zero": false}, "axis": {"title": "Enrichment score (ES)", "values": [0,0.1,0.2,0.3,0.4,0.5], "format": ".1f", "tickCount": 20, "labelFontSize": 10.5, "titleFontSize": 10.5, "grid": true, "labelOverlap": false}},
"color": {"datum": "Enrichment profile", "type": "nominal", "scale": {"domain": ["Enrichment profile", "Hits", "Ranking metric scores"], "range": ["#22e622", "#555555", "#dcdcdc"]}, "legend": {"orient": "none", "legendX": 18, "legendY": 321, "direction": "horizontal", "title": null, "symbolType": "stroke", "symbolStrokeWidth": 2.5, "symbolSize": 180, "labelFontSize": 10, "labelColor": "#222", "strokeColor": "#333", "fillColor": "#f5f5f5", "padding": 3, "columnPadding": 9, "labelOffset": 3}}}}
]},
{"width": 393, "height": 48, "data": {"name": "hits"}, "transform": [{"filter": "datum.p === 'G'"}], "mark": {"type": "rule", "color": "#1c1c1c", "strokeWidth": 1.1}, "encoding": {"x": {"field": "r", "type": "quantitative", "scale": {"domain": [0, 40400], "nice": false, "zero": false}, "axis": null}}},
{"width": 393, "height": 12, "data": {"name": "bands"}, "mark": "rect", "encoding": {"x": {"field": "r0", "type": "quantitative", "scale": {"domain": [0, 40400], "nice": false, "zero": false}, "axis": null}, "x2": {"field": "r1"}, "fill": {"field": "m", "type": "quantitative", "scale": {"type": "threshold", "domain": [-0.2,-0.08,-0.02,0.02,0.06,0.1,0.17,0.25], "range": ["#2a08c8","#6a62ec","#cbcaf6","#f6bde6","#f78e8f","#f46a7c","#f14a52","#de2a2a","#c40c0c"]}, "legend": null}}},
{"width": 393, "height": 93, "layer": [
{"data": {"name": "metric"}, "mark": {"type": "area", "color": "#c2c2c2", "interpolate": "monotone"}, "encoding": {"x": {"field": "r", "type": "quantitative", "scale": {"domain": [0, 40400], "nice": false, "zero": false}, "axis": {"title": "Rank in Ordered Dataset", "values": [0,5000,10000,15000,20000,25000,30000,35000,40000], "format": ",d", "labelFontSize": 8.3, "labelFontWeight": "bold", "labelColor": "#444", "titleFontSize": 10, "labelFlush": false, "labelOverlap": false, "grid": true, "titlePadding": 3}}, "y": {"field": "m", "type": "quantitative", "scale": {"domain": [-0.51, 0.48], "nice": false, "zero": false}, "axis": {"title": "Ranked list metric (Signal2Noise)", "values": [-0.4,-0.2,0,0.2,0.4], "format": ".1f", "tickCount": 20, "labelFontSize": 8.3, "labelFontWeight": "bold", "labelColor": "#444", "titleFontSize": 8.3, "grid": true, "labelOverlap": false}}}},
{"data": {"values": [{}]}, "mark": {"type": "rule", "color": "#aaaaaa", "strokeDash": [3, 3]}, "encoding": {"x": {"datum": 26962}}},
{"data": {"values": [{}]}, "mark": {"type": "rect", "color": "white"}, "encoding": {"x": {"datum": 23100}, "x2": {"datum": 30800}, "y": {"datum": 0.004}, "y2": {"datum": -0.05}}},
{"data": {"values": [{}]}, "mark": {"type": "text", "text": "Zero cross at 26962", "fontSize": 7.5, "color": "#333"}, "encoding": {"x": {"datum": 26962}, "y": {"datum": -0.023}}},
{"data": {"values": [{}]}, "mark": {"type": "text", "text": "'HR' (positively correlated)", "fontSize": 8.3, "color": "#e34a64", "align": "left", "baseline": "top", "dx": 2, "dy": 1}, "encoding": {"x": {"datum": 0}, "y": {"datum": 0.48}}},
{"data": {"values": [{}]}, "mark": {"type": "text", "text": "'LR' (negatively correlated)", "fontSize": 8.3, "color": "#5c5cd6", "baseline": "bottom", "dy": -2}, "encoding": {"x": {"datum": 26100}, "y": {"datum": -0.51}}}
]}
]},
{"title": {"text": "H", "anchor": "start", "frame": "bounds", "font": "Open Sans", "fontSize": 28, "fontWeight": "normal", "dx": -34, "dy": 43, "offset": 0},
"spacing": 0, "bounds": "flush",
"vconcat": [
{"width": 407, "height": 149, "title": {"text": ["Enrichment plot:", "HALLMARK_FATTY_ACID_METABOLISM"], "frame": "bounds", "lineHeight": 19, "offset": 5},
"layer": [
{"data": {"values": [{}]}, "mark": {"type": "rule", "color": "#9a9a9a", "strokeWidth": 1.2}, "encoding": {"y": {"datum": 0, "type": "quantitative"}}},
{"data": {"name": "es"}, "transform": [{"filter": "datum.p === 'H'"}], "mark": {"type": "line", "strokeWidth": 2.6},
"encoding": {"x": {"field": "r", "type": "quantitative", "scale": {"domain": [0, 40400], "nice": false, "zero": false}, "axis": {"labels": false, "ticks": false, "domain": false, "title": null, "grid": true, "values": [0,5000,10000,15000,20000,25000,30000,35000,40000]}},
"y": {"field": "v", "type": "quantitative", "scale": {"domain": [-0.555, 0.058], "nice": false, "zero": false}, "axis": {"title": "Enrichment score (ES)", "values": [-0.5,-0.4,-0.3,-0.2,-0.1,0], "format": ".1f", "tickCount": 20, "labelFontSize": 10.5, "titleFontSize": 10.5, "grid": true, "labelOverlap": false}},
"color": {"datum": "Enrichment profile", "type": "nominal", "scale": {"domain": ["Enrichment profile", "Hits", "Ranking metric scores"], "range": ["#22e622", "#555555", "#dcdcdc"]}, "legend": {"orient": "none", "legendX": 17, "legendY": 321, "direction": "horizontal", "title": null, "symbolType": "stroke", "symbolStrokeWidth": 2.5, "symbolSize": 180, "labelFontSize": 10, "labelColor": "#222", "strokeColor": "#333", "fillColor": "#f5f5f5", "padding": 3, "columnPadding": 9, "labelOffset": 3}}}}
]},
{"width": 407, "height": 43, "data": {"name": "hits"}, "transform": [{"filter": "datum.p === 'H'"}], "mark": {"type": "rule", "color": "#1c1c1c", "strokeWidth": 1.1}, "encoding": {"x": {"field": "r", "type": "quantitative", "scale": {"domain": [0, 40400], "nice": false, "zero": false}, "axis": null}}},
{"width": 407, "height": 11, "data": {"name": "bands"}, "mark": "rect", "encoding": {"x": {"field": "r0", "type": "quantitative", "scale": {"domain": [0, 40400], "nice": false, "zero": false}, "axis": null}, "x2": {"field": "r1"}, "fill": {"field": "m", "type": "quantitative", "scale": {"type": "threshold", "domain": [-0.2,-0.08,-0.02,0.02,0.06,0.1,0.17,0.25], "range": ["#2a08c8","#6a62ec","#cbcaf6","#f6bde6","#f78e8f","#f46a7c","#f14a52","#de2a2a","#c40c0c"]}, "legend": null}}},
{"width": 407, "height": 88, "layer": [
{"data": {"name": "metric"}, "mark": {"type": "area", "color": "#c2c2c2", "interpolate": "monotone"}, "encoding": {"x": {"field": "r", "type": "quantitative", "scale": {"domain": [0, 40400], "nice": false, "zero": false}, "axis": {"title": "Rank in Ordered Dataset", "values": [0,5000,10000,15000,20000,25000,30000,35000,40000], "format": ",d", "labelFontSize": 8.3, "labelFontWeight": "bold", "labelColor": "#444", "titleFontSize": 10, "labelFlush": false, "labelOverlap": false, "grid": true, "titlePadding": 3}}, "y": {"field": "m", "type": "quantitative", "scale": {"domain": [-0.51, 0.48], "nice": false, "zero": false}, "axis": {"title": "Ranked list metric (Signal2Noise)", "values": [-0.4,-0.2,0,0.2,0.4], "format": ".1f", "tickCount": 20, "labelFontSize": 8.3, "labelFontWeight": "bold", "labelColor": "#444", "titleFontSize": 8.3, "grid": true, "labelOverlap": false}}}},
{"data": {"values": [{}]}, "mark": {"type": "rule", "color": "#aaaaaa", "strokeDash": [3, 3]}, "encoding": {"x": {"datum": 26962}}},
{"data": {"values": [{}]}, "mark": {"type": "rect", "color": "white"}, "encoding": {"x": {"datum": 23100}, "x2": {"datum": 30800}, "y": {"datum": 0.004}, "y2": {"datum": -0.05}}},
{"data": {"values": [{}]}, "mark": {"type": "text", "text": "Zero cross at 26962", "fontSize": 7.5, "color": "#333"}, "encoding": {"x": {"datum": 26962}, "y": {"datum": -0.023}}},
{"data": {"values": [{}]}, "mark": {"type": "text", "text": "'HR' (positively correlated)", "fontSize": 8.3, "color": "#e34a64", "align": "left", "baseline": "top", "dx": 2, "dy": 1}, "encoding": {"x": {"datum": 0}, "y": {"datum": 0.48}}},
{"data": {"values": [{}]}, "mark": {"type": "text", "text": "'LR' (negatively correlated)", "fontSize": 8.3, "color": "#5c5cd6", "baseline": "bottom", "dy": -2}, "encoding": {"x": {"datum": 26100}, "y": {"datum": -0.51}}}
]}
]}
], "spacing": 13, "resolve": {"scale": {"color": "independent"}}},
{"hconcat": [
{"title": {"text": "I", "anchor": "start", "frame": "bounds", "font": "Open Sans", "fontSize": 28, "fontWeight": "normal", "dx": -30, "dy": 17, "offset": 0},
"spacing": 0, "bounds": "flush",
"vconcat": [
{"width": 390, "height": 126, "title": {"text": "Enrichment plot: HALLMARK_APICAL_JUNCTION", "frame": "bounds", "offset": 8},
"layer": [
{"data": {"values": [{}]}, "mark": {"type": "rule", "color": "#9a9a9a", "strokeWidth": 1.2}, "encoding": {"y": {"datum": 0, "type": "quantitative"}}},
{"data": {"name": "es"}, "transform": [{"filter": "datum.p === 'I'"}], "mark": {"type": "line", "strokeWidth": 2.6},
"encoding": {"x": {"field": "r", "type": "quantitative", "scale": {"domain": [0, 40400], "nice": false, "zero": false}, "axis": {"labels": false, "ticks": false, "domain": false, "title": null, "grid": true, "values": [0,5000,10000,15000,20000,25000,30000,35000,40000]}},
"y": {"field": "v", "type": "quantitative", "scale": {"domain": [-0.063, 0.53], "nice": false, "zero": false}, "axis": {"title": "Enrichment score (ES)", "values": [0,0.1,0.2,0.3,0.4,0.5], "format": ".1f", "tickCount": 20, "labelFontSize": 10.5, "titleFontSize": 10.5, "grid": true, "labelOverlap": false}},
"color": {"datum": "Enrichment profile", "type": "nominal", "scale": {"domain": ["Enrichment profile", "Hits", "Ranking metric scores"], "range": ["#22e622", "#555555", "#dcdcdc"]}, "legend": {"orient": "none", "legendX": 18, "legendY": 287, "direction": "horizontal", "title": null, "symbolType": "stroke", "symbolStrokeWidth": 2.5, "symbolSize": 180, "labelFontSize": 10, "labelColor": "#222", "strokeColor": "#333", "fillColor": "#f5f5f5", "padding": 3, "columnPadding": 9, "labelOffset": 3}}}}
]},
{"width": 390, "height": 41, "data": {"name": "hits"}, "transform": [{"filter": "datum.p === 'I'"}], "mark": {"type": "rule", "color": "#1c1c1c", "strokeWidth": 1.1}, "encoding": {"x": {"field": "r", "type": "quantitative", "scale": {"domain": [0, 40400], "nice": false, "zero": false}, "axis": null}}},
{"width": 390, "height": 11, "data": {"name": "bands"}, "mark": "rect", "encoding": {"x": {"field": "r0", "type": "quantitative", "scale": {"domain": [0, 40400], "nice": false, "zero": false}, "axis": null}, "x2": {"field": "r1"}, "fill": {"field": "m", "type": "quantitative", "scale": {"type": "threshold", "domain": [-0.2,-0.08,-0.02,0.02,0.06,0.1,0.17,0.25], "range": ["#2a08c8","#6a62ec","#cbcaf6","#f6bde6","#f78e8f","#f46a7c","#f14a52","#de2a2a","#c40c0c"]}, "legend": null}}},
{"width": 390, "height": 84, "layer": [
{"data": {"name": "metric"}, "mark": {"type": "area", "color": "#c2c2c2", "interpolate": "monotone"}, "encoding": {"x": {"field": "r", "type": "quantitative", "scale": {"domain": [0, 40400], "nice": false, "zero": false}, "axis": {"title": "Rank in Ordered Dataset", "values": [0,5000,10000,15000,20000,25000,30000,35000,40000], "format": ",d", "labelFontSize": 8.3, "labelFontWeight": "bold", "labelColor": "#444", "titleFontSize": 10, "labelFlush": false, "labelOverlap": false, "grid": true, "titlePadding": 3}}, "y": {"field": "m", "type": "quantitative", "scale": {"domain": [-0.51, 0.48], "nice": false, "zero": false}, "axis": {"title": "Ranked list metric (Signal2Noise)", "values": [-0.4,-0.2,0,0.2,0.4], "format": ".1f", "tickCount": 20, "labelFontSize": 8.3, "labelFontWeight": "bold", "labelColor": "#444", "titleFontSize": 8.3, "grid": true, "labelOverlap": false}}}},
{"data": {"values": [{}]}, "mark": {"type": "rule", "color": "#aaaaaa", "strokeDash": [3, 3]}, "encoding": {"x": {"datum": 26962}}},
{"data": {"values": [{}]}, "mark": {"type": "rect", "color": "white"}, "encoding": {"x": {"datum": 23100}, "x2": {"datum": 30800}, "y": {"datum": 0.004}, "y2": {"datum": -0.05}}},
{"data": {"values": [{}]}, "mark": {"type": "text", "text": "Zero cross at 26962", "fontSize": 7.5, "color": "#333"}, "encoding": {"x": {"datum": 26962}, "y": {"datum": -0.023}}},
{"data": {"values": [{}]}, "mark": {"type": "text", "text": "'HR' (positively correlated)", "fontSize": 8.3, "color": "#e34a64", "align": "left", "baseline": "top", "dx": 2, "dy": 1}, "encoding": {"x": {"datum": 0}, "y": {"datum": 0.48}}},
{"data": {"values": [{}]}, "mark": {"type": "text", "text": "'LR' (negatively correlated)", "fontSize": 8.3, "color": "#5c5cd6", "baseline": "bottom", "dy": -2}, "encoding": {"x": {"datum": 26100}, "y": {"datum": -0.51}}}
]}
]},
{"title": {"text": "J", "anchor": "start", "frame": "bounds", "font": "Open Sans", "fontSize": 28, "fontWeight": "normal", "dx": -30, "dy": 17, "offset": 0},
"spacing": 0, "bounds": "flush",
"vconcat": [
{"width": 398, "height": 126, "title": {"text": "Enrichment plot: HALLMARK_TGF_BETA_SIGNALING", "frame": "bounds", "offset": 8},
"layer": [
{"data": {"values": [{}]}, "mark": {"type": "rule", "color": "#9a9a9a", "strokeWidth": 1.2}, "encoding": {"y": {"datum": 0, "type": "quantitative"}}},
{"data": {"name": "es"}, "transform": [{"filter": "datum.p === 'J'"}], "mark": {"type": "line", "strokeWidth": 2.6},
"encoding": {"x": {"field": "r", "type": "quantitative", "scale": {"domain": [0, 40400], "nice": false, "zero": false}, "axis": {"labels": false, "ticks": false, "domain": false, "title": null, "grid": true, "values": [0,5000,10000,15000,20000,25000,30000,35000,40000]}},
"y": {"field": "v", "type": "quantitative", "scale": {"domain": [-0.118, 0.544], "nice": false, "zero": false}, "axis": {"title": "Enrichment score (ES)", "values": [-0.1,0,0.1,0.2,0.3,0.4,0.5], "format": ".1f", "tickCount": 20, "labelFontSize": 10.5, "titleFontSize": 10.5, "grid": true, "labelOverlap": false}},
"color": {"datum": "Enrichment profile", "type": "nominal", "scale": {"domain": ["Enrichment profile", "Hits", "Ranking metric scores"], "range": ["#22e622", "#555555", "#dcdcdc"]}, "legend": {"orient": "none", "legendX": 17, "legendY": 287, "direction": "horizontal", "title": null, "symbolType": "stroke", "symbolStrokeWidth": 2.5, "symbolSize": 180, "labelFontSize": 10, "labelColor": "#222", "strokeColor": "#333", "fillColor": "#f5f5f5", "padding": 3, "columnPadding": 9, "labelOffset": 3}}}}
]},
{"width": 398, "height": 41, "data": {"name": "hits"}, "transform": [{"filter": "datum.p === 'J'"}], "mark": {"type": "rule", "color": "#1c1c1c", "strokeWidth": 1.1}, "encoding": {"x": {"field": "r", "type": "quantitative", "scale": {"domain": [0, 40400], "nice": false, "zero": false}, "axis": null}}},
{"width": 398, "height": 11, "data": {"name": "bands"}, "mark": "rect", "encoding": {"x": {"field": "r0", "type": "quantitative", "scale": {"domain": [0, 40400], "nice": false, "zero": false}, "axis": null}, "x2": {"field": "r1"}, "fill": {"field": "m", "type": "quantitative", "scale": {"type": "threshold", "domain": [-0.2,-0.08,-0.02,0.02,0.06,0.1,0.17,0.25], "range": ["#2a08c8","#6a62ec","#cbcaf6","#f6bde6","#f78e8f","#f46a7c","#f14a52","#de2a2a","#c40c0c"]}, "legend": null}}},
{"width": 398, "height": 84, "layer": [
{"data": {"name": "metric"}, "mark": {"type": "area", "color": "#c2c2c2", "interpolate": "monotone"}, "encoding": {"x": {"field": "r", "type": "quantitative", "scale": {"domain": [0, 40400], "nice": false, "zero": false}, "axis": {"title": "Rank in Ordered Dataset", "values": [0,5000,10000,15000,20000,25000,30000,35000,40000], "format": ",d", "labelFontSize": 8.3, "labelFontWeight": "bold", "labelColor": "#444", "titleFontSize": 10, "labelFlush": false, "labelOverlap": false, "grid": true, "titlePadding": 3}}, "y": {"field": "m", "type": "quantitative", "scale": {"domain": [-0.51, 0.48], "nice": false, "zero": false}, "axis": {"title": "Ranked list metric (Signal2Noise)", "values": [-0.4,-0.2,0,0.2,0.4], "format": ".1f", "tickCount": 20, "labelFontSize": 8.3, "labelFontWeight": "bold", "labelColor": "#444", "titleFontSize": 8.3, "grid": true, "labelOverlap": false}}}},
{"data": {"values": [{}]}, "mark": {"type": "rule", "color": "#aaaaaa", "strokeDash": [3, 3]}, "encoding": {"x": {"datum": 26962}}},
{"data": {"values": [{}]}, "mark": {"type": "rect", "color": "white"}, "encoding": {"x": {"datum": 23100}, "x2": {"datum": 30800}, "y": {"datum": 0.004}, "y2": {"datum": -0.05}}},
{"data": {"values": [{}]}, "mark": {"type": "text", "text": "Zero cross at 26962", "fontSize": 7.5, "color": "#333"}, "encoding": {"x": {"datum": 26962}, "y": {"datum": -0.023}}},
{"data": {"values": [{}]}, "mark": {"type": "text", "text": "'HR' (positively correlated)", "fontSize": 8.3, "color": "#e34a64", "align": "left", "baseline": "top", "dx": 2, "dy": 1}, "encoding": {"x": {"datum": 0}, "y": {"datum": 0.48}}},
{"data": {"values": [{}]}, "mark": {"type": "text", "text": "'LR' (negatively correlated)", "fontSize": 8.3, "color": "#5c5cd6", "baseline": "bottom", "dy": -2}, "encoding": {"x": {"datum": 26100}, "y": {"datum": -0.51}}}
]}
]}
], "spacing": 13, "resolve": {"scale": {"color": "independent"}}}
],
"config": {
"font": "DejaVu Sans",
"view": {"stroke": "#bdbdbd", "strokeWidth": 1},
"axis": {"domain": false, "tickColor": "#999999", "tickSize": 3, "gridColor": "#dedede", "gridDash": [2, 2], "labelColor": "#555555", "titleColor": "#222222", "titleFontWeight": "normal", "labelOverlap": false},
"axisY": {"tickCount": 20},
"title": {"font": "DejaVu Sans", "fontWeight": "bold", "fontSize": 14.5, "color": "#000000"},
"locale": {"number": {"decimal": ".", "thousands": ",", "grouping": [3], "currency": ["$", ""], "minus": "-"}}
}
}
